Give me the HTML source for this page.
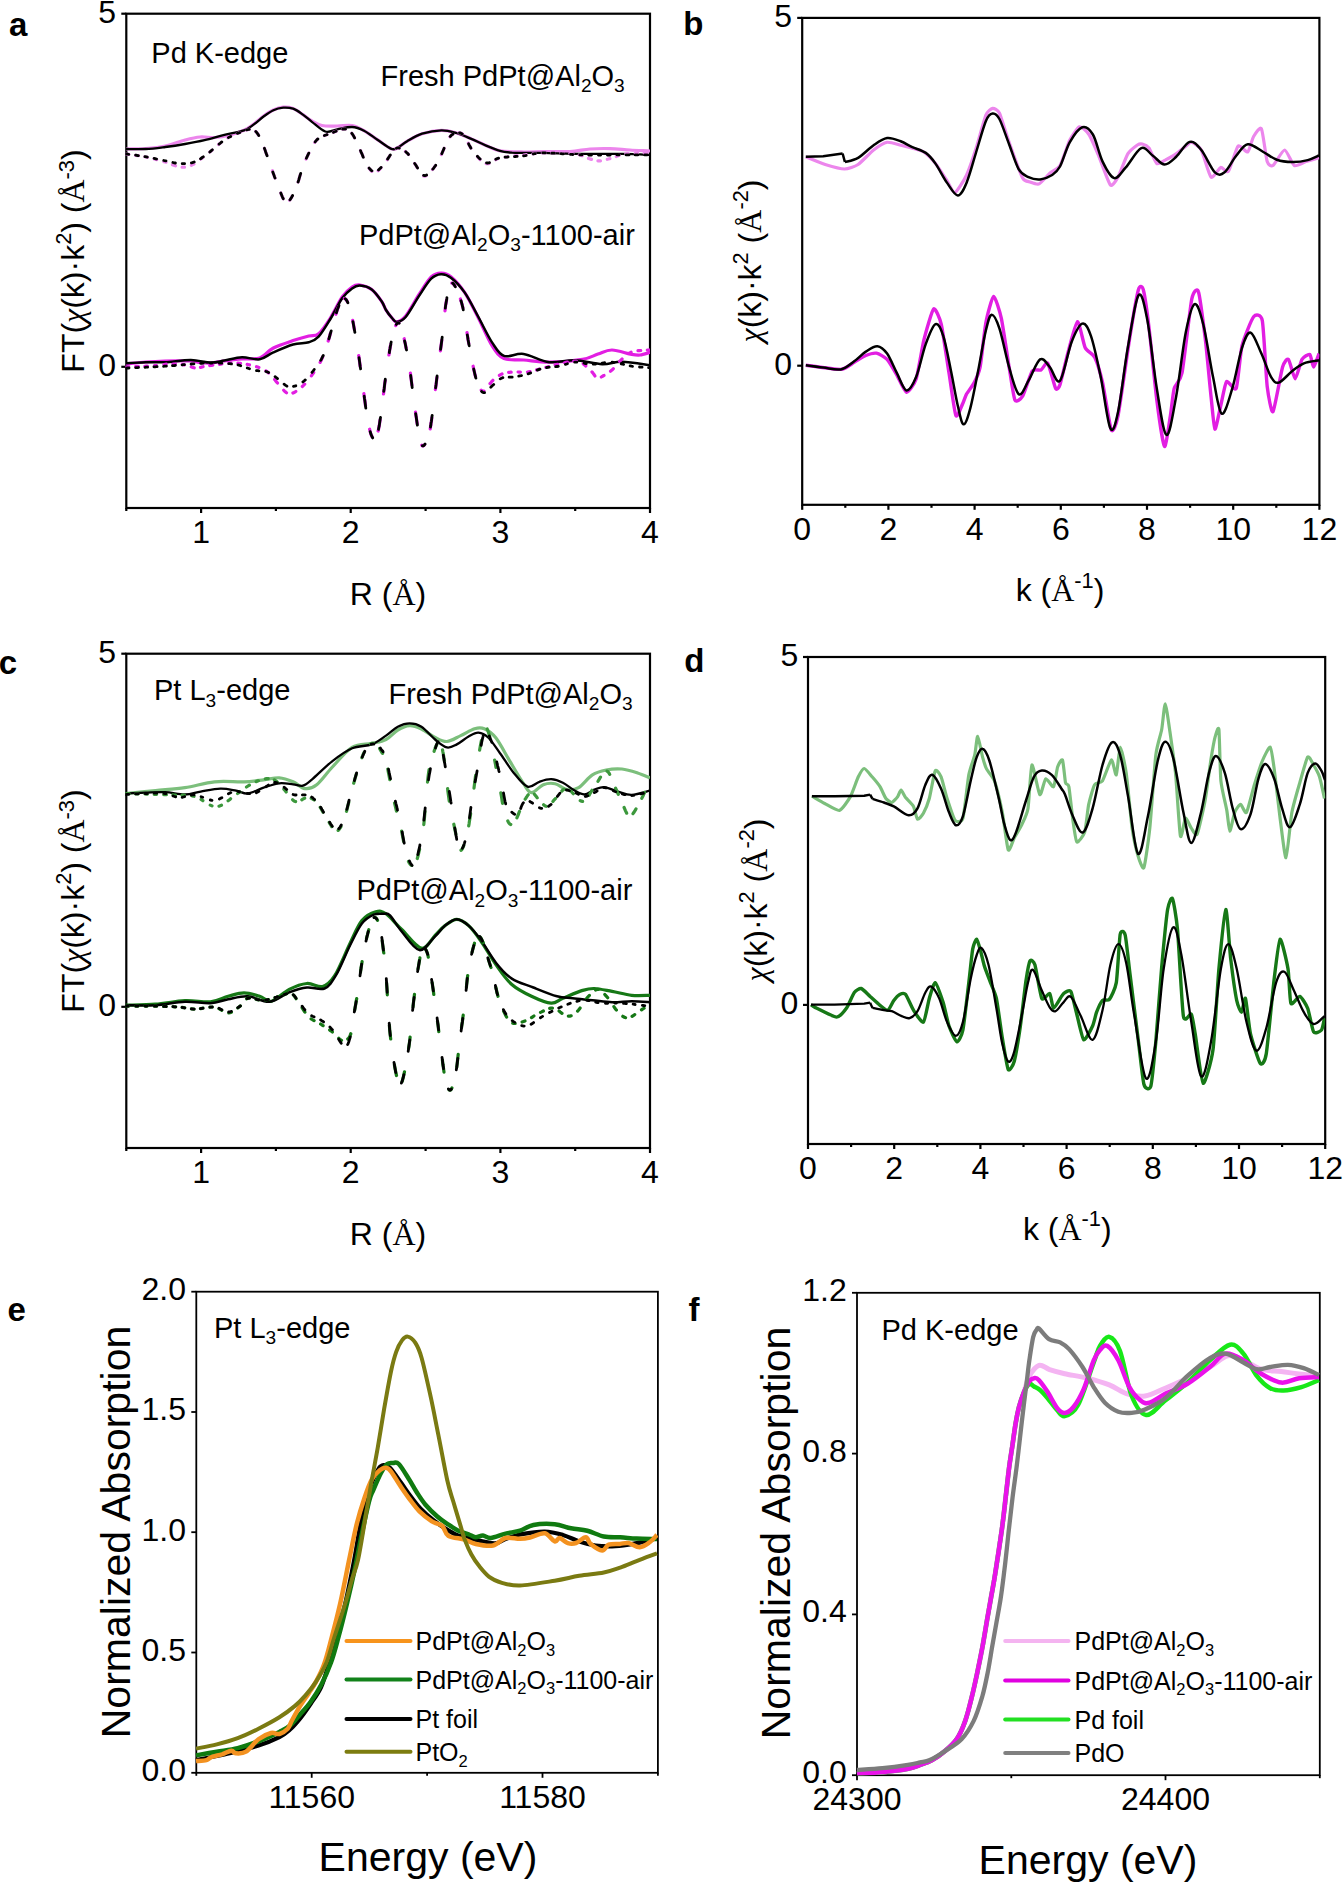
<!DOCTYPE html>
<html><head><meta charset="utf-8"><style>
html,body{margin:0;padding:0;background:#fff;width:1343px;height:1884px;overflow:hidden}
svg{display:block}
text{font-family:"Liberation Sans",sans-serif;fill:#000}
.serif{font-family:"Liberation Serif",serif}
.chi{font-family:"Liberation Serif",serif;font-style:italic}
</style></head><body>
<svg width="1343" height="1884" viewBox="0 0 1343 1884">
<rect width="1343" height="1884" fill="#fff"/>
<rect x="126.3" y="13.7" width="523.7" height="494.3" fill="none" stroke="#000" stroke-width="2.2"/>
<line x1="201.1" y1="508.0" x2="201.1" y2="513.0" stroke="#000" stroke-width="2.2" stroke-linecap="butt"/>
<line x1="350.7" y1="508.0" x2="350.7" y2="513.0" stroke="#000" stroke-width="2.2" stroke-linecap="butt"/>
<line x1="500.4" y1="508.0" x2="500.4" y2="513.0" stroke="#000" stroke-width="2.2" stroke-linecap="butt"/>
<line x1="650.0" y1="508.0" x2="650.0" y2="513.0" stroke="#000" stroke-width="2.2" stroke-linecap="butt"/>
<line x1="126.3" y1="508.0" x2="126.3" y2="511.0" stroke="#000" stroke-width="2.2" stroke-linecap="butt"/>
<line x1="275.9" y1="508.0" x2="275.9" y2="511.0" stroke="#000" stroke-width="2.2" stroke-linecap="butt"/>
<line x1="425.6" y1="508.0" x2="425.6" y2="511.0" stroke="#000" stroke-width="2.2" stroke-linecap="butt"/>
<line x1="575.2" y1="508.0" x2="575.2" y2="511.0" stroke="#000" stroke-width="2.2" stroke-linecap="butt"/>
<line x1="121.3" y1="13.7" x2="126.3" y2="13.7" stroke="#000" stroke-width="2.2" stroke-linecap="butt"/>
<line x1="121.3" y1="366.8" x2="126.3" y2="366.8" stroke="#000" stroke-width="2.2" stroke-linecap="butt"/>
<rect x="802.2" y="17.9" width="517.2" height="486.9" fill="none" stroke="#000" stroke-width="2.2"/>
<line x1="802.2" y1="504.8" x2="802.2" y2="509.8" stroke="#000" stroke-width="2.2" stroke-linecap="butt"/>
<line x1="888.4" y1="504.8" x2="888.4" y2="509.8" stroke="#000" stroke-width="2.2" stroke-linecap="butt"/>
<line x1="974.6" y1="504.8" x2="974.6" y2="509.8" stroke="#000" stroke-width="2.2" stroke-linecap="butt"/>
<line x1="1060.8" y1="504.8" x2="1060.8" y2="509.8" stroke="#000" stroke-width="2.2" stroke-linecap="butt"/>
<line x1="1147.0" y1="504.8" x2="1147.0" y2="509.8" stroke="#000" stroke-width="2.2" stroke-linecap="butt"/>
<line x1="1233.2" y1="504.8" x2="1233.2" y2="509.8" stroke="#000" stroke-width="2.2" stroke-linecap="butt"/>
<line x1="1319.4" y1="504.8" x2="1319.4" y2="509.8" stroke="#000" stroke-width="2.2" stroke-linecap="butt"/>
<line x1="845.3" y1="504.8" x2="845.3" y2="507.8" stroke="#000" stroke-width="2.2" stroke-linecap="butt"/>
<line x1="931.5" y1="504.8" x2="931.5" y2="507.8" stroke="#000" stroke-width="2.2" stroke-linecap="butt"/>
<line x1="1017.7" y1="504.8" x2="1017.7" y2="507.8" stroke="#000" stroke-width="2.2" stroke-linecap="butt"/>
<line x1="1103.9" y1="504.8" x2="1103.9" y2="507.8" stroke="#000" stroke-width="2.2" stroke-linecap="butt"/>
<line x1="1190.1" y1="504.8" x2="1190.1" y2="507.8" stroke="#000" stroke-width="2.2" stroke-linecap="butt"/>
<line x1="1276.3" y1="504.8" x2="1276.3" y2="507.8" stroke="#000" stroke-width="2.2" stroke-linecap="butt"/>
<line x1="797.2" y1="17.9" x2="802.2" y2="17.9" stroke="#000" stroke-width="2.2" stroke-linecap="butt"/>
<line x1="797.2" y1="365.7" x2="802.2" y2="365.7" stroke="#000" stroke-width="2.2" stroke-linecap="butt"/>
<rect x="126.3" y="653.7" width="523.7" height="494.3" fill="none" stroke="#000" stroke-width="2.2"/>
<line x1="201.1" y1="1148.0" x2="201.1" y2="1153.0" stroke="#000" stroke-width="2.2" stroke-linecap="butt"/>
<line x1="350.7" y1="1148.0" x2="350.7" y2="1153.0" stroke="#000" stroke-width="2.2" stroke-linecap="butt"/>
<line x1="500.4" y1="1148.0" x2="500.4" y2="1153.0" stroke="#000" stroke-width="2.2" stroke-linecap="butt"/>
<line x1="650.0" y1="1148.0" x2="650.0" y2="1153.0" stroke="#000" stroke-width="2.2" stroke-linecap="butt"/>
<line x1="126.3" y1="1148.0" x2="126.3" y2="1151.0" stroke="#000" stroke-width="2.2" stroke-linecap="butt"/>
<line x1="275.9" y1="1148.0" x2="275.9" y2="1151.0" stroke="#000" stroke-width="2.2" stroke-linecap="butt"/>
<line x1="425.6" y1="1148.0" x2="425.6" y2="1151.0" stroke="#000" stroke-width="2.2" stroke-linecap="butt"/>
<line x1="575.2" y1="1148.0" x2="575.2" y2="1151.0" stroke="#000" stroke-width="2.2" stroke-linecap="butt"/>
<line x1="121.3" y1="653.7" x2="126.3" y2="653.7" stroke="#000" stroke-width="2.2" stroke-linecap="butt"/>
<line x1="121.3" y1="1006.8" x2="126.3" y2="1006.8" stroke="#000" stroke-width="2.2" stroke-linecap="butt"/>
<rect x="808.0" y="657.0" width="517.2" height="487.0" fill="none" stroke="#000" stroke-width="2.2"/>
<line x1="808.0" y1="1144.0" x2="808.0" y2="1149.0" stroke="#000" stroke-width="2.2" stroke-linecap="butt"/>
<line x1="894.2" y1="1144.0" x2="894.2" y2="1149.0" stroke="#000" stroke-width="2.2" stroke-linecap="butt"/>
<line x1="980.4" y1="1144.0" x2="980.4" y2="1149.0" stroke="#000" stroke-width="2.2" stroke-linecap="butt"/>
<line x1="1066.6" y1="1144.0" x2="1066.6" y2="1149.0" stroke="#000" stroke-width="2.2" stroke-linecap="butt"/>
<line x1="1152.8" y1="1144.0" x2="1152.8" y2="1149.0" stroke="#000" stroke-width="2.2" stroke-linecap="butt"/>
<line x1="1239.0" y1="1144.0" x2="1239.0" y2="1149.0" stroke="#000" stroke-width="2.2" stroke-linecap="butt"/>
<line x1="1325.2" y1="1144.0" x2="1325.2" y2="1149.0" stroke="#000" stroke-width="2.2" stroke-linecap="butt"/>
<line x1="851.1" y1="1144.0" x2="851.1" y2="1147.0" stroke="#000" stroke-width="2.2" stroke-linecap="butt"/>
<line x1="937.3" y1="1144.0" x2="937.3" y2="1147.0" stroke="#000" stroke-width="2.2" stroke-linecap="butt"/>
<line x1="1023.5" y1="1144.0" x2="1023.5" y2="1147.0" stroke="#000" stroke-width="2.2" stroke-linecap="butt"/>
<line x1="1109.7" y1="1144.0" x2="1109.7" y2="1147.0" stroke="#000" stroke-width="2.2" stroke-linecap="butt"/>
<line x1="1195.9" y1="1144.0" x2="1195.9" y2="1147.0" stroke="#000" stroke-width="2.2" stroke-linecap="butt"/>
<line x1="1282.1" y1="1144.0" x2="1282.1" y2="1147.0" stroke="#000" stroke-width="2.2" stroke-linecap="butt"/>
<line x1="803.0" y1="657.0" x2="808.0" y2="657.0" stroke="#000" stroke-width="2.2" stroke-linecap="butt"/>
<line x1="803.0" y1="1004.9" x2="808.0" y2="1004.9" stroke="#000" stroke-width="2.2" stroke-linecap="butt"/>
<rect x="196.3" y="1291.7" width="461.6" height="481.1" fill="none" stroke="#000" stroke-width="1.8"/>
<line x1="311.7" y1="1772.8" x2="311.7" y2="1777.8" stroke="#000" stroke-width="1.8" stroke-linecap="butt"/>
<line x1="542.5" y1="1772.8" x2="542.5" y2="1777.8" stroke="#000" stroke-width="1.8" stroke-linecap="butt"/>
<line x1="196.3" y1="1772.8" x2="196.3" y2="1775.8" stroke="#000" stroke-width="1.8" stroke-linecap="butt"/>
<line x1="427.1" y1="1772.8" x2="427.1" y2="1775.8" stroke="#000" stroke-width="1.8" stroke-linecap="butt"/>
<line x1="657.9" y1="1772.8" x2="657.9" y2="1775.8" stroke="#000" stroke-width="1.8" stroke-linecap="butt"/>
<line x1="191.3" y1="1772.8" x2="196.3" y2="1772.8" stroke="#000" stroke-width="1.8" stroke-linecap="butt"/>
<line x1="191.3" y1="1652.5" x2="196.3" y2="1652.5" stroke="#000" stroke-width="1.8" stroke-linecap="butt"/>
<line x1="191.3" y1="1532.2" x2="196.3" y2="1532.2" stroke="#000" stroke-width="1.8" stroke-linecap="butt"/>
<line x1="191.3" y1="1412.0" x2="196.3" y2="1412.0" stroke="#000" stroke-width="1.8" stroke-linecap="butt"/>
<line x1="191.3" y1="1291.7" x2="196.3" y2="1291.7" stroke="#000" stroke-width="1.8" stroke-linecap="butt"/>
<rect x="857.0" y="1292.8" width="462.8" height="482.4" fill="none" stroke="#000" stroke-width="1.8"/>
<line x1="857.0" y1="1775.2" x2="857.0" y2="1780.2" stroke="#000" stroke-width="1.8" stroke-linecap="butt"/>
<line x1="1165.5" y1="1775.2" x2="1165.5" y2="1780.2" stroke="#000" stroke-width="1.8" stroke-linecap="butt"/>
<line x1="1011.3" y1="1775.2" x2="1011.3" y2="1778.2" stroke="#000" stroke-width="1.8" stroke-linecap="butt"/>
<line x1="1319.8" y1="1775.2" x2="1319.8" y2="1778.2" stroke="#000" stroke-width="1.8" stroke-linecap="butt"/>
<line x1="852.0" y1="1775.2" x2="857.0" y2="1775.2" stroke="#000" stroke-width="1.8" stroke-linecap="butt"/>
<line x1="852.0" y1="1614.4" x2="857.0" y2="1614.4" stroke="#000" stroke-width="1.8" stroke-linecap="butt"/>
<line x1="852.0" y1="1453.6" x2="857.0" y2="1453.6" stroke="#000" stroke-width="1.8" stroke-linecap="butt"/>
<line x1="852.0" y1="1292.8" x2="857.0" y2="1292.8" stroke="#000" stroke-width="1.8" stroke-linecap="butt"/>
<text x="201.1" y="543.0" font-size="32" text-anchor="middle" font-weight="normal" >1</text>
<text x="350.7" y="543.0" font-size="32" text-anchor="middle" font-weight="normal" >2</text>
<text x="500.4" y="543.0" font-size="32" text-anchor="middle" font-weight="normal" >3</text>
<text x="650.0" y="543.0" font-size="32" text-anchor="middle" font-weight="normal" >4</text>
<text x="201.1" y="1183.0" font-size="32" text-anchor="middle" font-weight="normal" >1</text>
<text x="350.7" y="1183.0" font-size="32" text-anchor="middle" font-weight="normal" >2</text>
<text x="500.4" y="1183.0" font-size="32" text-anchor="middle" font-weight="normal" >3</text>
<text x="650.0" y="1183.0" font-size="32" text-anchor="middle" font-weight="normal" >4</text>
<text x="802.2" y="539.6" font-size="32" text-anchor="middle" font-weight="normal" >0</text>
<text x="888.4" y="539.6" font-size="32" text-anchor="middle" font-weight="normal" >2</text>
<text x="974.6" y="539.6" font-size="32" text-anchor="middle" font-weight="normal" >4</text>
<text x="1060.8" y="539.6" font-size="32" text-anchor="middle" font-weight="normal" >6</text>
<text x="1147.0" y="539.6" font-size="32" text-anchor="middle" font-weight="normal" >8</text>
<text x="1233.2" y="539.6" font-size="32" text-anchor="middle" font-weight="normal" >10</text>
<text x="1319.4" y="539.6" font-size="32" text-anchor="middle" font-weight="normal" >12</text>
<text x="808.0" y="1178.5" font-size="32" text-anchor="middle" font-weight="normal" >0</text>
<text x="894.2" y="1178.5" font-size="32" text-anchor="middle" font-weight="normal" >2</text>
<text x="980.4" y="1178.5" font-size="32" text-anchor="middle" font-weight="normal" >4</text>
<text x="1066.6" y="1178.5" font-size="32" text-anchor="middle" font-weight="normal" >6</text>
<text x="1152.8" y="1178.5" font-size="32" text-anchor="middle" font-weight="normal" >8</text>
<text x="1239.0" y="1178.5" font-size="32" text-anchor="middle" font-weight="normal" >10</text>
<text x="1325.2" y="1178.5" font-size="32" text-anchor="middle" font-weight="normal" >12</text>
<text x="116.0" y="22.5" font-size="32" text-anchor="end" font-weight="normal" >5</text>
<text x="116.0" y="375.6" font-size="32" text-anchor="end" font-weight="normal" >0</text>
<text x="116.0" y="662.5" font-size="32" text-anchor="end" font-weight="normal" >5</text>
<text x="116.0" y="1015.6" font-size="32" text-anchor="end" font-weight="normal" >0</text>
<text x="792.0" y="26.7" font-size="32" text-anchor="end" font-weight="normal" >5</text>
<text x="792.0" y="374.5" font-size="32" text-anchor="end" font-weight="normal" >0</text>
<text x="798.2" y="665.8" font-size="32" text-anchor="end" font-weight="normal" >5</text>
<text x="798.2" y="1013.7" font-size="32" text-anchor="end" font-weight="normal" >0</text>
<text x="311.7" y="1807.5" font-size="32" text-anchor="middle" font-weight="normal" >11560</text>
<text x="542.5" y="1807.5" font-size="32" text-anchor="middle" font-weight="normal" >11580</text>
<text x="857.0" y="1810.0" font-size="32" text-anchor="middle" font-weight="normal" >24300</text>
<text x="1165.5" y="1810.0" font-size="32" text-anchor="middle" font-weight="normal" >24400</text>
<text x="186.0" y="1781.1" font-size="32" text-anchor="end" font-weight="normal" >0.0</text>
<text x="186.0" y="1660.8" font-size="32" text-anchor="end" font-weight="normal" >0.5</text>
<text x="186.0" y="1540.5" font-size="32" text-anchor="end" font-weight="normal" >1.0</text>
<text x="186.0" y="1420.3" font-size="32" text-anchor="end" font-weight="normal" >1.5</text>
<text x="186.0" y="1300.0" font-size="32" text-anchor="end" font-weight="normal" >2.0</text>
<text x="846.7" y="1783.2" font-size="32" text-anchor="end" font-weight="normal" >0.0</text>
<text x="846.7" y="1622.4" font-size="32" text-anchor="end" font-weight="normal" >0.4</text>
<text x="846.7" y="1461.6" font-size="32" text-anchor="end" font-weight="normal" >0.8</text>
<text x="846.7" y="1300.8" font-size="32" text-anchor="end" font-weight="normal" >1.2</text>
<text x="9.1" y="35.7" font-size="33" text-anchor="start" font-weight="bold" >a</text>
<text x="683.2" y="35.4" font-size="33" text-anchor="start" font-weight="bold" >b</text>
<text x="-1.3" y="673.7" font-size="33" text-anchor="start" font-weight="bold" >c</text>
<text x="684.2" y="671.9" font-size="33" text-anchor="start" font-weight="bold" >d</text>
<text x="7.6" y="1320.7" font-size="33" text-anchor="start" font-weight="bold" >e</text>
<text x="688.4" y="1320.7" font-size="33" text-anchor="start" font-weight="bold" >f</text>
<text transform="translate(84.0,261.0) rotate(-90)" font-size="32" text-anchor="middle"><tspan dy="0.0" font-size="32.0">FT(</tspan><tspan dy="0.0" font-size="32.0" class="chi">χ</tspan><tspan dy="0.0" font-size="32.0">(k)·k</tspan><tspan dy="-13.4" font-size="21.8">2</tspan><tspan dy="13.4" font-size="32.0">) (</tspan><tspan dy="0.0" font-size="32.0" class="serif">Å</tspan><tspan dy="-9.6" font-size="21.8">-3</tspan><tspan dy="9.6" font-size="32.0">)</tspan></text>
<text transform="translate(84.0,901.0) rotate(-90)" font-size="32" text-anchor="middle"><tspan dy="0.0" font-size="32.0">FT(</tspan><tspan dy="0.0" font-size="32.0" class="chi">χ</tspan><tspan dy="0.0" font-size="32.0">(k)·k</tspan><tspan dy="-13.4" font-size="21.8">2</tspan><tspan dy="13.4" font-size="32.0">) (</tspan><tspan dy="0.0" font-size="32.0" class="serif">Å</tspan><tspan dy="-9.6" font-size="21.8">-3</tspan><tspan dy="9.6" font-size="32.0">)</tspan></text>
<text transform="translate(761.0,261.0) rotate(-90)" font-size="32" text-anchor="middle"><tspan dy="0.0" font-size="32.0" class="chi">χ</tspan><tspan dy="0.0" font-size="32.0">(k)·k</tspan><tspan dy="-13.4" font-size="21.8">2</tspan><tspan dy="13.4" font-size="32.0"> (</tspan><tspan dy="0.0" font-size="32.0" class="serif">Å</tspan><tspan dy="-13.4" font-size="21.8">-2</tspan><tspan dy="13.4" font-size="32.0">)</tspan></text>
<text transform="translate(767.0,900.0) rotate(-90)" font-size="32" text-anchor="middle"><tspan dy="0.0" font-size="32.0" class="chi">χ</tspan><tspan dy="0.0" font-size="32.0">(k)·k</tspan><tspan dy="-13.4" font-size="21.8">2</tspan><tspan dy="13.4" font-size="32.0"> (</tspan><tspan dy="0.0" font-size="32.0" class="serif">Å</tspan><tspan dy="-13.4" font-size="21.8">-2</tspan><tspan dy="13.4" font-size="32.0">)</tspan></text>
<text transform="translate(130.0,1532.0) rotate(-90)" font-size="41" text-anchor="middle">Normalized Absorption</text>
<text transform="translate(790.0,1533.0) rotate(-90)" font-size="41" text-anchor="middle">Normalized Absorption</text>
<text x="388.0" y="604.7" font-size="32" text-anchor="middle" font-weight="normal" ><tspan dy="0.0" font-size="32.0">R (</tspan><tspan dy="0.0" font-size="32.0" class="serif">Å</tspan><tspan dy="0.0" font-size="32.0">)</tspan></text>
<text x="388.0" y="1244.7" font-size="32" text-anchor="middle" font-weight="normal" ><tspan dy="0.0" font-size="32.0">R (</tspan><tspan dy="0.0" font-size="32.0" class="serif">Å</tspan><tspan dy="0.0" font-size="32.0">)</tspan></text>
<text x="1060.0" y="601.0" font-size="32" text-anchor="middle" font-weight="normal" ><tspan dy="0.0" font-size="32.0">k (</tspan><tspan dy="0.0" font-size="32.0" class="serif">Å</tspan><tspan dy="-13.4" font-size="21.8">-1</tspan><tspan dy="13.4" font-size="32.0">)</tspan></text>
<text x="1067.3" y="1239.8" font-size="32" text-anchor="middle" font-weight="normal" ><tspan dy="0.0" font-size="32.0">k (</tspan><tspan dy="0.0" font-size="32.0" class="serif">Å</tspan><tspan dy="-13.4" font-size="21.8">-1</tspan><tspan dy="13.4" font-size="32.0">)</tspan></text>
<text x="428.0" y="1871.3" font-size="41" text-anchor="middle" font-weight="normal" >Energy (eV)</text>
<text x="1088.0" y="1873.6" font-size="41" text-anchor="middle" font-weight="normal" >Energy (eV)</text>
<text x="151.3" y="62.7" font-size="29" text-anchor="start" font-weight="normal" >Pd K-edge</text>
<text x="380.6" y="85.7" font-size="29" text-anchor="start" font-weight="normal" ><tspan dy="0.0" font-size="29.0">Fresh PdPt@Al</tspan><tspan dy="6.4" font-size="19.1">2</tspan><tspan dy="-6.4" font-size="29.0">O</tspan><tspan dy="6.4" font-size="19.1">3</tspan></text>
<text x="359.0" y="244.5" font-size="29" text-anchor="start" font-weight="normal" ><tspan dy="0.0" font-size="29.0">PdPt@Al</tspan><tspan dy="6.4" font-size="19.1">2</tspan><tspan dy="-6.4" font-size="29.0">O</tspan><tspan dy="6.4" font-size="19.1">3</tspan><tspan dy="-6.4" font-size="29.0">-1100-air</tspan></text>
<text x="154.0" y="700.4" font-size="29" text-anchor="start" font-weight="normal" ><tspan dy="0.0" font-size="29.0">Pt L</tspan><tspan dy="6.4" font-size="19.1">3</tspan><tspan dy="-6.4" font-size="29.0">-edge</tspan></text>
<text x="388.5" y="703.9" font-size="29" text-anchor="start" font-weight="normal" ><tspan dy="0.0" font-size="29.0">Fresh PdPt@Al</tspan><tspan dy="6.4" font-size="19.1">2</tspan><tspan dy="-6.4" font-size="29.0">O</tspan><tspan dy="6.4" font-size="19.1">3</tspan></text>
<text x="356.5" y="900.4" font-size="29" text-anchor="start" font-weight="normal" ><tspan dy="0.0" font-size="29.0">PdPt@Al</tspan><tspan dy="6.4" font-size="19.1">2</tspan><tspan dy="-6.4" font-size="29.0">O</tspan><tspan dy="6.4" font-size="19.1">3</tspan><tspan dy="-6.4" font-size="29.0">-1100-air</tspan></text>
<text x="214.0" y="1337.5" font-size="29" text-anchor="start" font-weight="normal" ><tspan dy="0.0" font-size="29.0">Pt L</tspan><tspan dy="6.4" font-size="19.1">3</tspan><tspan dy="-6.4" font-size="29.0">-edge</tspan></text>
<text x="881.5" y="1339.5" font-size="29" text-anchor="start" font-weight="normal" >Pd K-edge</text>
<line x1="346.5" y1="1640.9" x2="410.5" y2="1640.9" stroke="#f7941d" stroke-width="4" stroke-linecap="round"/>
<text x="415.5" y="1650.2" font-size="25" text-anchor="start" font-weight="normal" ><tspan dy="0.0" font-size="25.0">PdPt@Al</tspan><tspan dy="5.5" font-size="16.5">2</tspan><tspan dy="-5.5" font-size="25.0">O</tspan><tspan dy="5.5" font-size="16.5">3</tspan></text>
<line x1="346.5" y1="1679.6" x2="410.5" y2="1679.6" stroke="#12821a" stroke-width="4" stroke-linecap="round"/>
<text x="415.5" y="1688.9" font-size="25" text-anchor="start" font-weight="normal" ><tspan dy="0.0" font-size="25.0">PdPt@Al</tspan><tspan dy="5.5" font-size="16.5">2</tspan><tspan dy="-5.5" font-size="25.0">O</tspan><tspan dy="5.5" font-size="16.5">3</tspan><tspan dy="-5.5" font-size="25.0">-1100-air</tspan></text>
<line x1="346.5" y1="1718.9" x2="410.5" y2="1718.9" stroke="#000" stroke-width="4" stroke-linecap="round"/>
<text x="415.5" y="1728.2" font-size="25" text-anchor="start" font-weight="normal" ><tspan dy="0.0" font-size="25.0">Pt foil</tspan></text>
<line x1="346.5" y1="1751.8" x2="410.5" y2="1751.8" stroke="#7d7d10" stroke-width="4" stroke-linecap="round"/>
<text x="415.5" y="1761.1" font-size="25" text-anchor="start" font-weight="normal" ><tspan dy="0.0" font-size="25.0">PtO</tspan><tspan dy="5.5" font-size="16.5">2</tspan></text>
<line x1="1005.2" y1="1640.9" x2="1068.5" y2="1640.9" stroke="#f4b4f0" stroke-width="4" stroke-linecap="round"/>
<text x="1074.5" y="1650.2" font-size="25" text-anchor="start" font-weight="normal" ><tspan dy="0.0" font-size="25.0">PdPt@Al</tspan><tspan dy="5.5" font-size="16.5">2</tspan><tspan dy="-5.5" font-size="25.0">O</tspan><tspan dy="5.5" font-size="16.5">3</tspan></text>
<line x1="1005.2" y1="1680.4" x2="1068.5" y2="1680.4" stroke="#e000e0" stroke-width="4" stroke-linecap="round"/>
<text x="1074.5" y="1689.7" font-size="25" text-anchor="start" font-weight="normal" ><tspan dy="0.0" font-size="25.0">PdPt@Al</tspan><tspan dy="5.5" font-size="16.5">2</tspan><tspan dy="-5.5" font-size="25.0">O</tspan><tspan dy="5.5" font-size="16.5">3</tspan><tspan dy="-5.5" font-size="25.0">-1100-air</tspan></text>
<line x1="1005.2" y1="1719.6" x2="1068.5" y2="1719.6" stroke="#22e022" stroke-width="4" stroke-linecap="round"/>
<text x="1074.5" y="1728.9" font-size="25" text-anchor="start" font-weight="normal" ><tspan dy="0.0" font-size="25.0">Pd foil</tspan></text>
<line x1="1005.2" y1="1753.0" x2="1068.5" y2="1753.0" stroke="#808080" stroke-width="4" stroke-linecap="round"/>
<text x="1074.5" y="1762.3" font-size="25" text-anchor="start" font-weight="normal" ><tspan dy="0.0" font-size="25.0">PdO</tspan></text>
<clipPath id="ca"><rect x="125.3" y="13.7" width="524.7" height="494.3"/></clipPath>
<clipPath id="cb"><rect x="801.2" y="17.9" width="518.2" height="486.90000000000003"/></clipPath>
<clipPath id="cc"><rect x="125.3" y="653.7" width="524.7" height="494.29999999999995"/></clipPath>
<clipPath id="cd"><rect x="807" y="657" width="518.2" height="487"/></clipPath>
<clipPath id="ce"><rect x="195.3" y="1291.7" width="462.59999999999997" height="481.0999999999999"/></clipPath>
<clipPath id="cf"><rect x="856" y="1292.8" width="463.79999999999995" height="482.4000000000001"/></clipPath>
<path d="M126.0,149.0 C129.3,148.9 139.1,149.0 145.7,148.5 C152.2,148.0 158.8,147.4 165.3,146.0 C171.9,144.6 179.2,141.5 185.0,140.0 C190.8,138.5 195.0,137.4 200.0,137.0 C205.0,136.6 210.0,137.8 215.0,137.5 C220.0,137.2 225.2,136.2 230.0,135.0 C234.8,133.8 240.0,132.1 244.0,130.3 C248.0,128.5 250.5,126.4 253.8,124.0 C257.1,121.6 260.3,118.3 263.6,116.0 C266.9,113.7 270.1,111.5 273.4,110.0 C276.7,108.5 280.0,107.5 283.3,107.2 C286.6,107.0 289.8,107.3 293.1,108.5 C296.4,109.7 299.8,112.5 302.9,114.6 C306.0,116.7 308.7,119.2 311.9,121.0 C315.1,122.8 317.8,124.7 322.0,125.5 C326.2,126.3 332.2,126.0 337.2,126.0 C342.2,126.0 347.6,124.7 352.1,125.5 C356.6,126.3 359.8,128.3 364.0,130.7 C368.2,133.1 372.9,136.7 377.4,139.7 C381.9,142.7 387.6,147.2 390.8,148.6 C394.0,150.0 394.1,149.5 396.8,148.3 C399.5,147.1 403.0,143.6 407.2,141.2 C411.4,138.8 416.4,135.5 422.1,133.7 C427.8,131.9 435.8,130.4 441.5,130.3 C447.2,130.2 451.4,131.6 456.4,133.0 C461.4,134.4 466.4,136.8 471.3,138.9 C476.2,141.0 481.3,143.6 486.1,145.6 C490.9,147.6 493.8,149.7 500.0,150.8 C506.2,151.9 516.4,151.9 523.6,152.0 C530.8,152.1 535.6,151.6 543.3,151.5 C551.0,151.4 562.2,151.9 570.0,151.5 C577.8,151.1 583.3,149.5 590.0,149.0 C596.7,148.5 603.3,148.4 610.0,148.6 C616.7,148.8 623.3,149.6 630.0,150.0 C636.7,150.4 646.7,150.8 650.0,151.0" fill="none" stroke="#ec86ec" stroke-width="3.2" stroke-linejoin="round" clip-path="url(#ca)"/>
<path d="M126.0,149.0 C129.3,149.0 139.1,149.3 145.7,149.0 C152.2,148.7 158.8,147.8 165.3,147.0 C171.9,146.2 178.4,145.2 185.0,144.0 C191.6,142.8 198.0,141.6 204.6,140.1 C211.2,138.6 217.7,136.4 224.3,134.8 C230.9,133.2 239.1,132.0 244.0,130.3 C248.9,128.6 250.5,126.7 253.8,124.4 C257.1,122.1 260.3,118.9 263.6,116.5 C266.9,114.1 270.1,111.7 273.4,110.2 C276.7,108.7 280.0,108.0 283.3,107.7 C286.6,107.5 289.8,107.6 293.1,108.7 C296.4,109.8 299.8,112.4 302.9,114.6 C306.0,116.8 308.2,119.0 311.9,121.8 C315.6,124.6 321.1,130.2 325.3,131.5 C329.5,132.8 332.7,130.1 337.2,129.3 C341.7,128.6 347.6,126.8 352.1,127.0 C356.6,127.2 359.8,128.6 364.0,130.7 C368.2,132.8 372.9,136.7 377.4,139.7 C381.9,142.7 387.6,147.2 390.8,148.6 C394.0,150.0 394.1,149.5 396.8,148.3 C399.5,147.1 403.0,143.6 407.2,141.2 C411.4,138.8 416.4,135.5 422.1,133.7 C427.8,131.9 435.8,130.4 441.5,130.3 C447.2,130.2 451.4,131.6 456.4,133.0 C461.4,134.4 466.4,136.8 471.3,138.9 C476.2,141.0 481.3,143.6 486.1,145.6 C490.9,147.6 495.7,149.6 500.0,150.8 C504.3,152.0 508.1,152.3 512.0,152.7 C515.9,153.0 518.4,152.9 523.6,152.9 C528.8,152.9 533.5,152.7 543.3,152.9 C553.1,153.1 569.5,153.7 582.6,153.9 C595.7,154.1 610.7,153.7 621.9,153.9 C633.1,154.1 645.3,154.7 650.0,154.9" fill="none" stroke="#000" stroke-width="2.3" stroke-linejoin="round" clip-path="url(#ca)"/>
<path d="M126.0,154.0 127.0,154.1 128.1,154.3 128.8,154.4M135.6,155.3 137.5,155.6 138.4,155.7M144.9,156.8 146.5,157.2 147.4,157.3M154.1,158.9 155.8,159.4 156.7,159.6M163.8,161.6 165.3,162.0 166.0,162.2M172.5,164.7 173.7,165.2 174.9,165.6 175.5,165.9M182.1,167.2 183.1,167.2 184.0,167.2 184.5,167.2M191.4,165.3 192.6,164.7 193.9,164.0M200.8,159.1 202.2,158.0 203.0,157.4M209.9,151.9 211.3,150.8 212.0,150.3M218.6,144.5 219.9,143.5 221.2,142.4M227.9,137.9 229.0,137.2 230.1,136.6 230.7,136.4M237.4,133.4 238.6,133.0 239.8,132.5M246.5,129.9 247.6,129.6 248.8,129.4 249.3,129.3M255.8,131.5 256.4,132.1 257.0,132.9 257.6,133.7 258.2,134.6 258.5,135.1M264.4,148.3 265.1,150.1 265.7,152.0 266.4,153.9 266.8,154.8M272.4,170.7 273.2,173.2 274.1,175.6 275.0,178.0M280.8,193.0 281.5,194.8 282.2,196.5 282.9,198.0 283.3,198.7M289.6,200.3 290.3,199.3 291.1,198.1 291.8,196.8 292.2,196.2M298.1,182.0 298.8,179.9 299.4,177.7 300.0,175.6 300.4,174.5M306.0,159.0 306.7,157.6 307.3,156.3 307.9,155.0 308.5,153.7 308.8,153.1M314.8,142.4 315.4,141.6 316.1,140.7 316.8,140.0 317.5,139.2M324.4,135.5 325.4,135.2 326.5,134.8 327.0,134.6M333.5,132.3 334.8,131.7 336.2,131.2M342.6,129.2 343.7,129.1 344.7,129.0 345.6,129.0M351.8,133.3 352.4,134.1 353.0,135.1 353.7,136.1 354.3,137.3 354.6,137.9M360.5,150.6 361.1,152.1 361.8,153.5 362.4,155.0 363.0,156.5M369.1,168.3 369.7,169.1 370.4,169.9 371.0,170.6 371.6,171.2 371.9,171.4M378.1,170.7 378.9,170.0 379.6,169.3 380.4,168.4 381.1,167.6M387.3,159.7 388.0,158.5 388.8,157.3 389.5,156.1 389.9,155.6M396.2,148.3 396.7,148.1 397.2,148.0 397.7,147.9 398.3,147.9 398.9,148.0 399.3,148.1M405.4,151.5 406.1,152.1 406.9,152.8 407.5,153.4 408.2,154.1 408.5,154.5M414.7,163.5 415.4,164.5 416.1,165.7 416.8,166.9 417.2,167.6M423.6,176.0 424.3,176.1 425.1,176.1 425.9,175.8 426.2,175.7M432.5,169.5 433.2,168.7 433.8,167.9 434.4,167.1 435.1,166.2 435.4,165.7M441.4,154.5 442.2,152.9 442.9,151.1 443.7,149.3 444.1,148.3M449.9,136.8 450.6,136.1 451.2,135.4 451.8,134.9 452.4,134.4 452.7,134.3M459.2,132.8 459.8,132.9 460.4,133.0 461.0,133.2 461.6,133.5 462.3,133.9M468.3,143.2 468.9,144.4 469.5,145.7 470.2,146.9 470.9,148.1M477.4,156.6 478.3,157.6 479.2,158.6 480.1,159.5M486.2,163.6 486.8,163.7 487.4,163.7 488.0,163.6 488.7,163.6 489.1,163.5M495.8,159.7 496.8,159.1 498.0,158.6M505.1,157.1 507.1,156.8 507.6,156.7M514.5,155.9 515.6,155.8 516.6,155.7 517.1,155.7M523.6,155.0 525.3,154.8 526.2,154.7M532.9,153.8 534.4,153.6 535.2,153.5M542.3,153.0 543.3,153.0 544.4,153.0 545.0,153.0M551.5,152.9 552.9,153.0 554.3,153.0M560.9,153.1 562.4,153.1 563.1,153.2M569.9,153.5 571.1,153.6 572.3,153.7 572.9,153.8M579.3,154.8 580.7,155.3 582.1,155.7M588.5,158.5 589.5,158.8 590.5,159.1 591.5,159.4M597.9,160.8 598.7,160.8 599.5,160.8 600.5,160.8M607.3,159.3 608.4,159.0 609.4,158.7 609.9,158.6M616.3,156.5 617.2,156.1 618.2,155.7 619.2,155.3M625.8,153.9 627.7,153.7 628.2,153.7M635.2,153.3 636.5,153.3 637.7,153.3M644.2,153.1 645.2,153.1 647.1,153.1" fill="none" stroke="#ec86ec" stroke-width="3.2" stroke-linecap="round" clip-path="url(#ca)"/>
<path d="M126.0,153.9 127.0,154.0 128.1,154.2 128.8,154.3M135.6,155.2 137.5,155.5 138.4,155.6M144.9,156.7 146.5,156.9 147.3,157.1M154.1,158.4 155.8,158.8 156.6,159.0M163.8,160.5 165.3,160.8 166.0,160.9M172.9,162.5 174.2,162.8 175.4,163.0M182.2,163.7 183.4,163.7 184.6,163.7M191.4,162.9 192.5,162.6 193.7,162.2 194.2,162.0M200.5,158.8 201.6,158.0 202.7,157.2 203.3,156.8M209.8,152.0 211.1,150.9 212.4,149.8M219.1,144.1 220.5,143.0 221.8,141.9M228.4,137.6 229.6,136.9 230.7,136.4M237.4,133.4 238.6,133.0 239.8,132.5M246.5,129.9 247.6,129.6 248.8,129.4 249.3,129.3M255.8,131.5 256.4,132.1 257.0,132.9 257.6,133.7 258.2,134.6 258.8,135.6M264.4,148.3 265.1,150.1 265.7,152.0 266.4,153.9 267.1,155.8M272.8,172.0 273.7,174.4 274.5,176.8 275.0,178.0M280.8,193.0 281.5,194.8 282.2,196.5 282.9,198.0 283.3,198.7M290.0,199.8 290.7,198.7 291.5,197.5 292.2,196.2 292.6,195.5M298.1,182.0 298.8,179.9 299.4,177.7 300.0,175.6 300.7,173.4M306.4,158.3 307.0,156.9 307.6,155.6 308.2,154.3 308.8,153.1M315.1,142.0 315.7,141.2 316.4,140.4 317.1,139.6 317.9,138.9M324.4,135.5 325.4,135.2 326.5,134.8 327.0,134.6M333.5,132.3 334.8,131.7 336.2,131.2M342.6,129.2 343.7,129.1 344.7,129.0 345.6,129.0M351.8,133.3 352.4,134.1 353.0,135.1 353.7,136.1 354.3,137.3 354.6,137.9M360.5,150.6 361.1,152.1 361.8,153.6 362.4,155.1 363.0,156.6 363.3,157.3M369.1,168.1 369.7,168.8 370.4,169.5 371.0,170.1 371.6,170.6 371.9,170.8M378.5,169.9 379.2,169.2 380.0,168.5 380.8,167.8 381.1,167.4M387.6,159.1 388.4,157.9 389.2,156.7 389.9,155.6 390.3,155.0M396.4,148.2 396.9,148.0 397.4,147.9 398.0,147.9 398.6,147.9 399.3,148.1M405.8,151.8 406.5,152.5 407.2,153.1 407.9,153.8 408.5,154.5M414.7,163.5 415.4,164.5 416.1,165.6 416.8,166.8 417.6,168.0M423.6,175.4 424.3,175.6 425.1,175.5 425.9,175.3 426.6,175.0M432.8,169.1 433.5,168.3 434.1,167.5 434.7,166.7 435.4,165.8 435.7,165.3M441.8,153.7 442.5,152.0 443.3,150.2 444.1,148.3M450.2,136.4 450.9,135.7 451.5,135.1 452.1,134.7 452.7,134.3 453.0,134.1M459.5,132.8 460.1,132.9 460.7,133.1 461.3,133.4 461.9,133.7 462.3,133.9M468.6,143.8 469.2,145.1 469.9,146.3 470.6,147.5 470.9,148.1M477.4,156.3 478.3,157.3 479.2,158.2 480.1,159.1M486.5,162.9 487.1,163.0 487.7,163.0 488.4,162.9 489.1,162.8 489.5,162.7M495.8,159.3 496.8,158.8 498.0,158.3 498.6,158.1M505.1,157.1 507.1,157.0 508.1,156.9M514.5,156.6 515.6,156.5 516.6,156.4 517.1,156.4M523.6,155.9 525.3,155.7 526.1,155.5M533.2,154.0 534.6,153.7 535.4,153.6M542.7,152.9 543.9,152.9 545.2,152.9M551.7,153.1 552.8,153.2 553.9,153.2 554.4,153.2M561.1,153.7 562.3,153.8 563.5,153.8M570.5,154.3 571.7,154.4 572.9,154.5M579.8,154.8 580.9,154.9 582.0,154.9M588.7,155.0 589.8,155.0 591.0,155.0 591.5,155.0M598.4,155.0 599.5,155.0 600.7,155.0M607.4,155.0 608.5,155.0 609.6,155.0 610.2,155.0M617.0,154.9 618.3,154.9 619.0,154.9M626.1,154.9 627.6,154.9 629.0,154.9M635.2,154.9 636.5,154.9 637.8,154.9M644.7,154.9 646.2,154.9 647.1,154.9" fill="none" stroke="#000" stroke-width="2.8" stroke-linecap="round" clip-path="url(#ca)"/>
<path d="M126.0,364.0 C129.3,363.7 139.1,362.5 145.7,362.0 C152.2,361.5 157.8,361.2 165.3,361.0 C172.8,360.8 185.1,360.8 190.9,361.0 C196.7,361.2 196.7,362.2 200.0,362.5 C203.3,362.8 206.4,363.2 210.5,363.0 C214.6,362.8 219.1,361.7 224.3,361.0 C229.6,360.3 236.1,359.5 242.0,359.0 C247.9,358.5 254.5,359.8 259.7,358.0 C264.9,356.2 267.8,350.9 273.4,348.0 C279.0,345.1 287.2,342.6 293.1,340.6 C299.0,338.6 304.6,337.1 308.8,336.0 C313.1,334.9 315.0,336.7 318.6,333.7 C322.2,330.7 326.5,324.1 330.4,318.0 C334.3,311.9 338.6,302.2 342.2,297.0 C345.8,291.8 349.2,289.0 352.1,287.0 C355.1,285.0 356.6,284.6 359.9,285.0 C363.2,285.4 368.1,286.8 371.7,289.5 C375.3,292.2 379.2,297.9 381.6,301.3 C384.0,304.7 384.3,307.2 386.0,310.0 C387.7,312.8 390.2,316.0 392.0,318.0 C393.8,320.0 394.5,322.2 396.8,321.9 C399.1,321.6 401.9,320.6 405.7,316.0 C409.5,311.4 415.1,300.5 419.4,294.0 C423.6,287.5 427.6,280.5 431.2,277.0 C434.8,273.5 437.7,273.1 441.0,273.0 C444.3,272.9 447.0,273.5 450.9,276.7 C454.8,279.9 460.0,285.5 464.6,292.4 C469.2,299.3 473.8,309.1 478.4,318.0 C483.0,326.9 487.9,339.2 492.2,346.0 C496.5,352.8 498.8,356.2 504.0,358.5 C509.2,360.8 516.1,359.4 523.6,360.0 C531.1,360.6 539.4,362.3 549.2,362.2 C559.0,362.1 574.5,360.7 582.6,359.3 C590.7,357.9 593.1,355.6 598.0,354.0 C602.9,352.4 606.4,349.9 612.0,350.0 C617.6,350.1 627.0,353.6 631.7,354.4 C636.4,355.2 637.0,355.3 640.0,355.0 C643.0,354.7 648.3,352.8 650.0,352.4" fill="none" stroke="#e21ee2" stroke-width="3.2" stroke-linejoin="round" clip-path="url(#ca)"/>
<path d="M126.0,363.2 C129.3,363.0 139.1,362.4 145.7,362.2 C152.2,362.0 157.8,362.6 165.3,362.2 C172.8,361.8 183.4,359.8 190.9,359.9 C198.4,360.0 204.9,362.5 210.5,362.6 C216.1,362.7 219.1,361.5 224.3,360.6 C229.6,359.7 236.1,357.5 242.0,357.3 C247.9,357.1 254.5,360.1 259.7,359.3 C264.9,358.5 267.8,354.9 273.4,352.4 C279.0,349.9 287.2,346.2 293.1,344.5 C299.0,342.8 304.6,343.5 308.8,342.2 C313.1,340.9 315.0,340.6 318.6,336.7 C322.2,332.8 326.5,325.4 330.4,319.0 C334.3,312.6 338.6,303.4 342.2,298.3 C345.8,293.2 349.2,290.6 352.1,288.5 C355.1,286.4 356.6,285.4 359.9,285.6 C363.2,285.8 368.1,286.9 371.7,289.5 C375.3,292.1 379.2,297.9 381.6,301.3 C384.0,304.7 384.3,307.2 386.0,310.0 C387.7,312.8 390.2,316.0 392.0,318.0 C393.8,320.0 394.5,322.1 396.8,321.9 C399.1,321.7 401.9,321.4 405.7,317.0 C409.5,312.6 415.1,301.8 419.4,295.4 C423.6,289.0 427.6,282.2 431.2,278.7 C434.8,275.2 437.7,274.4 441.0,274.2 C444.3,274.0 447.0,274.7 450.9,277.7 C454.8,280.7 460.0,285.8 464.6,292.4 C469.2,298.9 473.8,308.6 478.4,317.0 C483.0,325.4 487.9,336.1 492.2,342.6 C496.5,349.1 498.8,354.0 504.0,355.9 C509.2,357.8 516.1,352.9 523.6,354.0 C531.1,355.1 540.7,361.1 549.2,362.2 C557.7,363.2 565.9,360.0 574.7,360.3 C583.5,360.6 594.3,363.9 602.2,364.2 C610.1,364.4 613.9,361.6 621.9,361.8 C629.9,362.0 645.3,364.6 650.0,365.2" fill="none" stroke="#000" stroke-width="2.5" stroke-linejoin="round" clip-path="url(#ca)"/>
<path d="M126.0,367.0 127.2,367.0 128.7,366.9M135.6,366.7 136.8,366.6 137.9,366.6 138.5,366.6M144.8,366.3 146.0,366.2 147.0,366.2 147.5,366.2M154.5,365.6 156.3,365.4M163.9,364.5 165.4,364.3 166.2,364.2M172.8,364.0 174.2,364.0 175.5,364.0M182.2,364.6 183.4,364.8 184.5,364.9M191.2,366.8 192.1,367.2 192.9,367.4 193.8,367.7 194.2,367.8M200.5,367.4 201.3,367.2 202.1,366.9 203.1,366.7M209.7,365.6 210.7,365.5 211.7,365.3 212.8,365.2M219.4,364.3 220.6,364.1 221.9,364.0M228.7,363.3 229.8,363.2 231.0,363.1M237.9,363.1 239.7,363.3 240.6,363.3M247.2,364.4 248.7,364.7 249.5,364.9M256.5,366.7 257.7,367.1 258.9,367.5M265.9,370.9 267.0,371.6 268.0,372.4 268.6,372.9M274.6,379.5 275.6,380.7 276.5,381.9 277.5,383.0M283.7,390.2 284.5,391.1 285.3,391.8 286.1,392.5 286.5,392.8M292.9,393.0 294.1,392.5 295.2,391.9 295.8,391.5M302.3,386.5 303.5,385.4 304.7,384.2M311.4,375.9 312.5,374.2 313.7,372.6M320.1,362.4 320.7,361.3 321.3,360.1 321.8,358.9 322.4,357.6 322.7,356.9M328.2,341.0 328.9,338.7 329.6,336.4 330.2,334.1 330.6,333.0M335.9,314.3 336.4,312.7 336.9,311.2 337.3,309.8 337.8,308.4 338.3,307.2 338.5,306.6M344.4,298.4 344.9,298.6 345.4,298.9 345.9,299.4 346.4,300.1 346.9,300.9 347.4,301.8M352.7,320.3 353.2,322.9 353.7,325.6 354.2,328.4 354.4,329.7M358.7,355.5 359.0,357.6 359.3,359.8 359.6,361.9 359.9,364.2 360.2,366.5M363.9,393.7 364.2,396.1 364.5,398.5 364.9,401.0 365.2,403.4 365.5,405.8M369.6,429.2 370.0,430.8 370.4,432.3 370.8,433.7 371.2,434.9 371.7,436.0 372.1,436.9M378.1,431.0 378.5,429.4 378.8,427.7 379.2,425.9 379.5,423.9 379.8,421.8 380.1,419.7M383.5,394.0 383.8,391.3 384.2,388.5 384.5,385.8 384.8,383.1 385.2,380.5M388.9,355.0 389.3,352.7 389.6,350.6 390.0,348.5 390.3,346.5 390.7,344.7M395.7,325.6 396.1,324.8 396.5,324.1 397.0,323.5 397.4,323.1 397.8,322.8 398.2,322.7 398.6,322.8 398.8,322.9M404.2,338.7 404.6,340.9 405.2,343.4 405.7,345.9 406.2,348.6M410.4,373.1 410.7,375.5 411.0,377.9 411.3,380.3 411.6,382.7 411.9,385.1M415.5,412.2 415.9,415.2 416.4,418.2 416.8,421.1 417.2,423.9M421.8,445.2 422.2,445.7 422.6,445.9 423.1,445.9 423.5,445.7 424.0,445.3 424.6,444.8M430.2,428.9 430.5,427.1 430.8,425.3 431.0,423.3 431.4,421.2 431.7,418.9 431.8,417.8M435.4,389.6 435.9,386.1 436.3,382.6 436.7,379.3 436.9,377.6M440.4,350.8 440.8,347.8 441.2,344.7 441.6,341.6 441.8,340.1M445.0,310.9 445.3,308.2 445.6,305.6 446.0,303.2 446.4,300.9 446.6,299.8M451.8,283.0 452.3,283.1 452.8,283.4 453.3,283.9 453.9,284.5 454.4,285.2 454.9,286.0M460.4,299.0 460.8,300.2 461.2,301.4 461.5,302.6 461.9,303.8 462.2,304.8 462.4,305.9 462.7,306.9 462.9,307.8M467.0,332.5 467.3,334.8 467.7,337.1 468.0,339.3 468.4,341.5 468.8,343.7M473.1,366.2 473.5,368.1 473.9,369.9 474.3,371.6 474.7,373.4 475.1,375.0 475.5,376.7M481.2,390.1 481.6,390.5 482.1,390.9 482.7,391.1 483.2,391.2 483.7,391.1 484.0,391.1M490.0,383.6 490.8,382.7 491.5,381.8 492.2,381.0 492.9,380.3M499.4,375.3 500.2,374.8 501.1,374.4 502.0,374.0M508.6,372.4 509.7,372.3 510.7,372.2 511.2,372.2M518.1,372.0 519.3,372.1 520.4,372.1M527.5,372.0 528.7,371.8 530.0,371.6M536.6,369.9 538.0,369.5 539.3,369.1M545.9,367.3 547.2,367.0 548.5,366.6M555.1,364.9 556.4,364.6 557.7,364.3M564.5,362.7 566.0,362.4 567.4,362.1M573.7,361.1 574.7,361.0 575.6,361.0 576.4,361.0M583.2,363.8 584.0,364.5 584.9,365.2 585.8,366.0M592.0,372.0 592.6,372.6 593.1,373.3 593.6,373.9 594.0,374.5 594.4,375.1 594.8,375.7 594.9,376.0M601.3,377.0 601.8,376.7 602.4,376.3 603.0,376.0 603.6,375.6 604.0,375.5M610.5,371.2 611.3,370.6 612.0,370.0 612.7,369.4 613.3,368.7M619.6,361.4 620.4,360.6 621.2,359.8 622.1,359.0M628.8,353.4 629.9,352.8 631.1,352.2M638.0,350.7 639.8,350.6 640.7,350.5M647.3,350.2 648.5,350.1 649.6,350.0 650.0,350.0" fill="none" stroke="#e21ee2" stroke-width="3.2" stroke-linecap="round" clip-path="url(#ca)"/>
<path d="M126.0,368.1 127.4,368.0 128.5,368.0 129.0,368.0M135.7,367.7 136.7,367.6 137.9,367.6 138.4,367.5M145.1,367.3 146.3,367.2 147.6,367.1M153.9,366.8 155.2,366.8 156.4,366.7 157.1,366.7M163.6,366.3 164.7,366.2 165.8,366.2 166.4,366.1M172.5,365.7 173.7,365.6 174.8,365.5 175.4,365.4M182.2,364.8 183.3,364.7 184.4,364.6M191.1,364.0 192.2,363.9 193.3,363.9 193.9,363.8M200.7,363.4 201.7,363.3 203.2,363.2M210.2,363.1 211.6,363.1 212.2,363.1M219.3,363.1 220.6,363.1 221.8,363.2M228.8,363.6 229.9,363.7 230.9,363.8 231.5,363.9M238.0,364.9 239.9,365.4 240.7,365.7M247.3,368.0 248.8,368.5 249.5,368.8M256.5,370.6 257.7,370.7 258.9,370.8M265.9,371.5 267.0,371.8 268.0,372.2 268.6,372.5M275.1,376.7 276.1,377.5 277.0,378.2 277.5,378.6M284.1,384.2 284.9,384.8 285.7,385.4 286.5,385.9 286.9,386.2M293.5,386.4 294.6,386.1 295.8,385.8M302.9,381.9 304.1,381.0 305.3,379.9M312.0,372.4 313.1,371.0 314.2,369.5M320.7,360.4 321.3,359.4 321.8,358.4 322.4,357.2 323.0,356.0 323.3,355.4M328.9,338.8 329.6,336.5 330.2,334.2 330.9,331.9 331.2,330.9M336.4,312.7 336.9,311.2 337.3,309.8 337.8,308.4 338.3,307.2 338.8,306.0 339.0,305.4M345.2,298.7 345.7,299.2 346.2,299.7 346.7,300.5 347.2,301.3 347.6,302.3 347.9,302.8M352.9,321.6 353.4,324.3 353.9,327.0 354.4,329.7 354.9,332.4M359.0,357.6 359.3,359.8 359.6,361.9 359.9,364.2 360.2,366.5 360.6,368.9M364.2,396.1 364.5,398.5 364.9,401.0 365.2,403.4 365.5,405.8 365.8,408.2M370.2,431.6 370.6,433.0 371.0,434.3 371.5,435.5 371.9,436.5 372.3,437.3 372.7,437.9M378.5,429.4 378.8,427.7 379.2,425.9 379.5,423.9 379.8,421.8 380.1,419.7 380.5,417.4M383.8,391.3 384.2,388.5 384.5,385.8 384.8,383.1 385.2,380.5 385.3,379.2M389.3,352.7 389.6,350.6 390.0,348.5 390.3,346.5 390.7,344.7 391.0,342.8 391.2,342.0M396.3,324.4 396.8,323.8 397.2,323.3 397.6,322.9 398.0,322.7 398.4,322.7 398.8,322.9 399.2,323.3M404.6,340.9 405.2,343.4 405.7,345.9 406.2,348.6 406.5,350.0M410.7,375.5 411.0,377.9 411.3,380.3 411.6,382.7 411.9,385.1 412.2,387.5M415.7,413.7 416.2,416.7 416.6,419.7 417.0,422.5 417.4,425.2M422.4,445.8 422.8,445.9 423.3,445.8 423.8,445.5 424.3,445.1 424.8,444.4 425.1,444.0M430.5,427.1 430.8,425.3 431.0,423.3 431.4,421.2 431.7,418.9 432.0,416.5 432.2,415.3M435.6,387.9 436.1,384.4 436.5,380.9 436.9,377.6 437.1,376.0M440.6,349.3 441.0,346.2 441.4,343.2 441.8,340.1 442.2,337.1M445.3,308.2 445.6,305.6 446.0,303.2 446.4,300.9 446.8,298.7 446.9,297.6M452.6,283.2 453.1,283.6 453.6,284.1 454.1,284.8 454.6,285.6 455.1,286.4 455.4,286.9M461.0,300.8 461.4,302.0 461.7,303.2 462.0,304.3 462.3,305.4 462.5,306.4 462.8,307.4 463.0,308.3 463.2,309.4 463.3,309.9M467.3,334.8 467.7,337.1 468.0,339.3 468.4,341.5 468.8,343.7 469.2,345.8M473.7,369.0 474.1,370.8 474.5,372.5 474.9,374.2 475.3,375.8 475.7,377.4 475.9,378.1M481.6,391.4 482.1,391.8 482.7,392.2 483.2,392.5 483.7,392.6 484.3,392.7 484.6,392.7M490.8,387.2 491.5,386.5 492.2,385.8 492.9,385.2 493.7,384.5M500.2,378.9 501.1,378.4 502.0,378.0 502.9,377.7M509.1,377.2 510.2,377.2 511.2,377.2 512.2,377.2M518.7,376.1 519.8,375.9 521.0,375.7 521.5,375.6M528.1,373.8 529.4,373.4 530.7,372.9M537.3,370.1 538.6,369.6 540.0,369.1M546.6,367.5 547.9,367.3 549.2,367.2M555.7,366.7 557.0,366.5 558.3,366.3M565.4,364.4 566.7,364.0 567.4,363.7M574.7,362.2 576.1,362.2 576.8,362.2M584.0,363.2 585.5,363.5 586.3,363.6M593.2,364.2 594.8,364.1 595.6,364.0M602.1,363.1 603.8,362.8 604.6,362.7M612.1,362.2 613.7,362.3M621.2,363.8 622.8,364.2 623.6,364.4M630.1,365.9 631.7,366.2 632.5,366.3M639.5,367.0 641.2,367.1 642.1,367.2M648.6,367.6 649.6,367.7 650.0,367.7" fill="none" stroke="#000" stroke-width="2.8" stroke-linecap="round" clip-path="url(#ca)"/>
<path d="M805.8,156.8 C807.7,157.6 821.3,163.3 825.2,164.5 C829.1,165.7 841.2,169.0 844.5,169.0 C847.8,169.0 855.2,166.4 858.1,164.5 C861.0,162.6 870.7,152.2 873.6,150.0 C876.5,147.8 884.4,142.8 887.1,142.3 C889.8,141.8 898.2,144.6 900.7,145.2 C903.2,145.8 910.0,147.4 912.3,148.1 C914.6,148.8 921.6,150.4 923.9,152.0 C926.2,153.6 933.2,160.7 935.5,163.6 C937.8,166.5 945.2,178.1 947.1,181.0 C949.0,183.9 953.0,193.2 954.9,192.6 C956.8,192.0 964.4,179.7 966.5,175.2 C968.6,170.7 974.3,154.0 976.2,148.0 C978.1,142.0 984.3,119.2 985.9,115.2 C987.5,111.2 991.2,108.6 992.6,108.4 C994.0,108.2 997.8,109.6 999.4,113.0 C1001.0,116.4 1006.8,135.8 1009.1,142.3 C1011.4,148.8 1020.5,174.1 1022.6,178.1 C1024.7,182.1 1028.3,181.4 1030.0,182.0 C1031.7,182.6 1037.1,184.8 1039.1,183.9 C1041.1,183.0 1047.7,175.1 1049.8,173.3 C1051.9,171.5 1058.0,168.8 1060.0,165.5 C1062.0,162.2 1067.8,144.2 1069.7,140.3 C1071.6,136.4 1077.5,127.4 1079.4,126.8 C1081.3,126.2 1087.1,131.6 1089.0,134.5 C1090.9,137.4 1096.6,150.8 1098.7,155.8 C1100.8,160.8 1108.4,182.8 1110.3,184.9 C1112.2,187.0 1116.2,180.2 1118.0,177.1 C1119.8,174.0 1125.9,157.1 1127.8,153.9 C1129.7,150.7 1136.0,146.0 1137.4,145.0 C1138.9,144.0 1141.1,143.7 1142.3,144.0 C1143.5,144.3 1147.5,146.0 1149.0,148.0 C1150.5,150.0 1155.1,162.4 1156.8,163.6 C1158.5,164.8 1164.1,160.7 1166.0,159.7 C1167.9,158.7 1174.0,155.3 1176.0,153.9 C1178.0,152.5 1184.2,147.3 1185.8,146.1 C1187.4,144.9 1190.2,141.9 1191.7,142.3 C1193.2,142.7 1199.4,146.5 1201.3,150.0 C1203.2,153.5 1209.1,175.4 1211.0,177.1 C1212.9,178.8 1219.0,168.0 1220.7,167.4 C1222.4,166.8 1226.7,173.4 1228.4,171.3 C1230.1,169.2 1236.2,148.0 1238.1,146.1 C1240.0,144.2 1246.2,153.0 1247.8,152.0 C1249.3,151.0 1252.2,138.8 1253.6,136.5 C1255.0,134.2 1260.0,126.2 1261.4,128.7 C1262.8,131.2 1266.0,157.9 1267.2,161.6 C1268.4,165.3 1271.3,166.7 1273.0,165.5 C1274.7,164.3 1282.5,150.0 1284.6,150.0 C1286.7,150.0 1292.2,164.3 1294.3,165.5 C1296.4,166.7 1303.4,162.4 1305.9,161.6 C1308.4,160.8 1317.7,158.2 1319.0,157.8" fill="none" stroke="#ec86ec" stroke-width="3.2" stroke-linejoin="round" clip-path="url(#cb)"/>
<path d="M805.8,156.8 L823.2,156.2 L842.6,153.5" fill="none" stroke="#000" stroke-width="2.5" stroke-linejoin="round" clip-path="url(#cb)"/>
<path d="M842.6,153.5 L844.9,162" stroke="#000" stroke-width="2.5" fill="none"/>
<path d="M844.9,162.0 C847.1,161.3 853.3,160.6 858.1,157.8 C862.9,155.0 868.8,148.5 873.6,145.2 C878.4,141.9 882.6,138.7 887.1,138.0 C891.6,137.3 896.5,139.8 900.7,141.3 C904.9,142.8 908.1,145.2 912.3,147.1 C916.5,149.0 921.9,150.2 925.8,152.9 C929.7,155.7 932.0,158.6 935.5,163.6 C939.0,168.6 943.4,177.6 947.1,182.9 C950.8,188.2 954.6,195.5 957.8,195.5 C961.0,195.5 963.4,190.2 966.5,182.9 C969.6,175.7 973.0,162.3 976.2,152.0 C979.4,141.7 983.2,127.4 985.9,121.0 C988.6,114.6 990.4,113.9 992.6,113.6 C994.9,113.3 996.6,113.9 999.4,119.0 C1002.1,124.1 1005.9,135.8 1009.1,144.2 C1012.3,152.6 1015.6,163.9 1018.8,169.4 C1022.0,174.9 1025.0,175.4 1028.5,177.1 C1032.0,178.8 1036.2,179.7 1040.1,179.4 C1044.0,179.1 1048.4,177.3 1051.7,175.2 C1055.0,173.0 1057.0,172.0 1060.0,166.5 C1063.0,161.0 1066.0,148.9 1069.7,142.3 C1073.4,135.8 1078.4,128.5 1082.3,127.2 C1086.2,125.9 1089.5,128.8 1092.9,134.5 C1096.3,140.2 1099.0,154.3 1102.6,161.6 C1106.1,168.9 1110.3,177.1 1114.2,178.1 C1118.1,179.1 1121.3,172.4 1125.8,167.4 C1130.3,162.4 1136.8,150.0 1141.3,148.1 C1145.8,146.2 1149.0,153.1 1152.9,155.8 C1156.8,158.5 1160.6,164.3 1164.5,164.5 C1168.4,164.7 1172.0,160.6 1176.2,156.8 C1180.4,153.0 1185.5,143.0 1189.7,141.9 C1193.9,140.8 1197.1,144.9 1201.3,150.0 C1205.5,155.1 1211.0,168.6 1214.9,172.3 C1218.8,176.0 1221.0,175.1 1224.6,172.3 C1228.1,169.6 1232.3,160.5 1236.2,155.8 C1240.1,151.1 1243.3,144.8 1247.8,144.2 C1252.3,143.6 1258.5,149.4 1263.3,152.0 C1268.1,154.6 1272.0,158.0 1276.8,159.7 C1281.6,161.4 1287.1,161.9 1292.3,162.0 C1297.5,162.1 1303.3,161.2 1307.8,160.1 C1312.2,159.0 1317.1,156.3 1319.0,155.5" fill="none" stroke="#000" stroke-width="2.5" stroke-linejoin="round" clip-path="url(#cb)"/>
<path d="M805.8,365.2 C809.3,365.6 835.9,369.7 840.7,369.4 C845.5,369.1 851.7,363.7 854.2,362.3 C856.7,360.9 863.6,356.4 865.8,355.5 C868.0,354.6 874.4,352.8 876.5,353.2 C878.6,353.6 885.1,357.2 887.1,359.4 C889.1,361.6 894.9,371.6 896.8,374.9 C898.7,378.2 904.6,391.9 906.5,392.3 C908.4,392.7 914.5,383.9 916.2,378.7 C917.9,373.5 922.2,347.0 923.9,340.0 C925.6,333.0 931.9,310.6 933.6,309.0 C935.3,307.4 939.8,318.1 941.3,324.5 C942.8,330.9 947.5,363.9 949.0,373.0 C950.5,382.1 954.5,412.4 955.9,415.5 C957.3,418.6 961.5,406.0 962.6,403.9 C963.7,401.8 965.3,396.3 966.5,394.2 C967.7,392.1 972.8,385.3 974.2,382.6 C975.6,379.9 978.9,373.1 980.1,367.1 C981.3,361.1 984.5,329.7 985.9,322.6 C987.2,315.5 992.1,296.9 993.6,296.5 C995.1,296.1 999.9,311.6 1001.4,318.7 C1002.9,325.8 1007.8,359.0 1009.1,367.1 C1010.5,375.2 1013.5,397.1 1014.9,400.0 C1016.2,402.9 1020.9,399.1 1022.6,396.2 C1024.3,393.3 1030.5,373.6 1032.3,371.0 C1034.1,368.4 1039.5,370.8 1041.0,370.0 C1042.5,369.2 1046.3,361.5 1047.8,363.3 C1049.3,365.1 1054.4,386.3 1055.6,388.4 C1056.8,390.5 1058.8,388.1 1060.0,384.6 C1061.2,381.1 1066.0,359.9 1067.7,353.6 C1069.4,347.3 1075.7,322.2 1077.4,321.6 C1079.2,321.0 1083.5,344.2 1085.2,347.8 C1086.9,351.4 1093.1,353.9 1094.8,357.4 C1096.5,360.9 1100.9,375.3 1102.6,382.6 C1104.2,389.9 1109.8,426.7 1111.3,430.0 C1112.8,433.3 1116.3,424.7 1118.1,415.5 C1119.9,406.3 1127.7,350.7 1129.7,338.1 C1131.7,325.5 1137.0,294.5 1138.4,289.7 C1139.8,284.9 1142.2,285.8 1143.3,289.7 C1144.4,293.6 1147.8,317.4 1149.1,328.4 C1150.4,339.4 1155.3,388.2 1156.8,400.0 C1158.3,411.8 1163.1,444.9 1164.5,446.5 C1165.9,448.1 1169.4,421.3 1170.4,415.5 C1171.4,409.7 1173.0,392.7 1174.2,388.4 C1175.4,384.1 1180.2,381.8 1182.0,372.9 C1183.8,364.0 1190.1,307.5 1191.7,299.4 C1193.3,291.3 1197.1,287.7 1198.4,291.6 C1199.8,295.5 1203.9,327.6 1205.2,338.1 C1206.5,348.6 1210.0,387.1 1211.0,396.2 C1212.0,405.3 1213.9,428.1 1214.9,429.1 C1215.9,430.1 1219.5,410.6 1220.7,405.8 C1221.9,401.1 1225.0,383.3 1226.5,381.6 C1228.0,379.9 1234.7,392.0 1236.2,388.4 C1237.8,384.8 1240.3,353.0 1242.0,345.8 C1243.7,338.6 1251.6,319.3 1253.6,316.8 C1255.6,314.3 1260.9,313.7 1262.3,320.7 C1263.7,327.7 1266.1,377.4 1267.2,386.5 C1268.3,395.6 1271.5,413.6 1273.0,411.7 C1274.5,409.8 1281.0,372.3 1282.6,367.1 C1284.1,361.9 1287.2,358.2 1288.5,359.4 C1289.8,360.6 1293.9,378.7 1295.2,378.7 C1296.5,378.7 1300.5,361.8 1302.0,359.4 C1303.5,357.0 1308.6,353.7 1309.8,354.5 C1311.0,355.3 1312.7,367.2 1313.6,367.1 C1314.5,367.0 1318.5,355.0 1319.0,353.6" fill="none" stroke="#e21ee2" stroke-width="3.4" stroke-linejoin="round" clip-path="url(#cb)"/>
<path d="M805.8,365.2 C808.7,365.6 817.4,366.8 823.2,367.5 C829.0,368.2 835.5,370.4 840.7,369.4 C845.9,368.4 850.0,364.3 854.2,361.3 C858.4,358.3 861.9,354.1 865.8,351.6 C869.7,349.1 873.8,345.9 877.4,346.2 C881.0,346.5 883.9,349.2 887.1,353.6 C890.3,358.1 893.6,366.8 896.8,372.9 C900.0,379.0 903.3,389.8 906.5,390.4 C909.7,391.0 913.0,384.6 916.2,376.8 C919.4,369.1 922.6,352.7 925.8,343.9 C929.0,335.1 932.6,325.4 935.5,324.1 C938.4,322.8 940.7,328.3 943.3,336.1 C945.9,343.9 948.6,359.4 951.0,371.0 C953.4,382.6 955.7,396.9 957.8,405.8 C959.9,414.7 961.5,423.9 963.6,424.2 C965.7,424.5 968.0,416.7 970.4,407.8 C972.8,398.9 975.5,383.9 978.1,371.0 C980.7,358.1 983.6,339.7 985.9,330.3 C988.2,320.9 989.5,315.1 991.7,314.8 C994.0,314.5 996.5,319.7 999.4,328.4 C1002.3,337.1 1005.9,356.1 1009.1,367.1 C1012.3,378.1 1015.6,391.9 1018.8,394.2 C1022.0,396.5 1025.0,386.5 1028.5,380.7 C1032.0,374.9 1036.5,361.7 1040.1,359.4 C1043.6,357.1 1046.5,363.6 1049.8,367.1 C1053.1,370.7 1056.4,384.9 1060.0,380.7 C1063.6,376.5 1067.9,351.5 1071.6,342.0 C1075.3,332.5 1079.1,324.6 1082.3,323.6 C1085.5,322.6 1087.9,327.2 1091.0,336.1 C1094.1,345.0 1097.5,361.5 1100.7,376.8 C1103.9,392.1 1107.4,422.3 1110.3,428.1 C1113.2,433.9 1115.2,425.1 1118.1,411.7 C1121.0,398.3 1124.4,367.2 1127.8,347.8 C1131.2,328.4 1135.2,300.4 1138.4,295.5 C1141.6,290.6 1144.0,303.2 1147.1,318.7 C1150.2,334.2 1153.6,369.0 1156.8,388.4 C1160.0,407.8 1163.3,433.6 1166.5,434.9 C1169.7,436.2 1173.0,413.3 1176.2,396.2 C1179.4,379.1 1182.7,347.6 1185.8,332.3 C1188.9,317.0 1191.7,305.5 1194.6,304.2 C1197.5,302.9 1200.2,312.4 1203.3,324.5 C1206.4,336.6 1209.9,361.9 1213.0,376.8 C1216.1,391.7 1218.5,411.7 1221.7,413.6 C1224.9,415.5 1228.9,399.4 1232.3,388.4 C1235.7,377.4 1238.9,357.1 1242.0,347.8 C1245.1,338.5 1247.5,331.7 1250.7,332.7 C1253.9,333.7 1258.0,346.2 1261.4,353.6 C1264.8,361.0 1268.1,372.0 1271.0,376.8 C1273.9,381.6 1275.2,383.6 1278.8,382.6 C1282.3,381.6 1288.1,374.2 1292.3,371.0 C1296.5,367.8 1299.5,365.1 1303.9,363.3 C1308.4,361.5 1316.5,360.8 1319.0,360.3" fill="none" stroke="#000" stroke-width="2.5" stroke-linejoin="round" clip-path="url(#cb)"/>
<path d="M126.0,793.5 C130.9,793.0 145.7,791.6 155.5,790.6 C165.3,789.6 175.2,789.1 185.0,787.6 C194.8,786.1 204.7,782.8 214.5,781.8 C224.3,780.8 235.8,782.1 244.0,781.8 C252.2,781.5 257.7,780.5 263.6,779.8 C269.5,779.1 274.4,777.5 279.3,777.8 C284.2,778.1 288.8,780.0 293.1,781.8 C297.4,783.6 301.0,788.1 304.9,788.6 C308.8,789.1 312.1,788.3 316.7,784.7 C321.3,781.1 326.5,773.2 332.4,767.0 C338.3,760.8 345.6,751.3 352.1,747.4 C358.7,743.5 366.1,744.7 371.7,743.4 C377.3,742.1 381.6,741.7 386.0,739.5 C390.4,737.3 393.9,732.3 397.8,730.0 C401.7,727.7 405.7,725.9 409.6,725.7 C413.5,725.5 417.1,727.0 421.4,729.0 C425.6,731.0 430.9,735.4 435.1,737.5 C439.4,739.6 442.6,741.8 446.9,741.5 C451.2,741.2 456.1,737.7 460.7,735.6 C465.3,733.5 470.6,729.9 474.5,728.7 C478.4,727.6 480.7,727.2 484.3,728.7 C487.9,730.2 491.8,732.6 496.0,738.0 C500.2,743.4 505.2,753.5 509.8,761.1 C514.4,768.7 520.0,778.5 523.6,783.7 C527.2,789.0 528.2,792.4 531.5,792.6 C534.8,792.8 539.4,786.2 543.3,784.7 C547.2,783.2 551.2,782.9 555.1,783.7 C559.0,784.5 563.0,789.0 566.9,789.6 C570.8,790.2 574.4,790.1 578.6,787.6 C582.9,785.1 587.8,777.8 592.4,774.9 C597.0,772.0 601.3,771.0 606.2,770.0 C611.1,769.0 616.7,768.5 621.9,769.0 C627.1,769.5 632.9,771.4 637.6,772.9 C642.3,774.4 647.9,777.0 650.0,777.8" fill="none" stroke="#7cbf7c" stroke-width="3.2" stroke-linejoin="round" clip-path="url(#cc)"/>
<path d="M126.0,793.5 C129.3,793.4 139.1,792.8 145.7,792.6 C152.2,792.4 158.8,791.9 165.3,792.2 C171.9,792.5 179.1,794.6 185.0,794.5 C190.9,794.4 194.8,792.6 200.7,791.6 C206.6,790.6 214.5,788.8 220.4,788.6 C226.3,788.4 231.5,789.8 236.1,790.6 C240.7,791.4 243.3,794.0 247.9,793.5 C252.5,793.0 258.4,789.3 263.6,787.6 C268.8,785.9 274.4,783.8 279.3,783.3 C284.2,782.8 289.2,783.9 293.1,784.3 C297.0,784.7 299.6,786.6 302.9,785.7 C306.2,784.8 307.8,782.9 312.7,778.8 C317.6,774.7 325.8,766.2 332.4,761.1 C339.0,756.0 345.6,751.1 352.1,748.3 C358.7,745.5 366.1,746.5 371.7,744.4 C377.3,742.3 381.6,738.5 386.0,735.6 C390.4,732.7 393.9,728.7 397.8,726.7 C401.7,724.7 405.7,723.4 409.6,723.4 C413.5,723.4 417.1,724.0 421.4,726.7 C425.6,729.4 430.9,736.0 435.1,739.5 C439.4,743.0 443.3,746.6 446.9,747.4 C450.5,748.2 453.2,746.2 456.8,744.4 C460.4,742.6 465.0,738.5 468.6,736.5 C472.2,734.5 475.1,732.4 478.4,732.6 C481.7,732.8 484.6,734.1 488.2,737.5 C491.8,740.9 495.7,747.3 500.0,753.2 C504.3,759.1 509.2,767.3 513.8,772.9 C518.4,778.5 523.2,785.2 527.5,786.7 C531.8,788.2 535.4,783.0 539.3,781.8 C543.2,780.5 547.2,779.1 551.1,779.2 C555.0,779.4 559.0,780.8 562.9,782.7 C566.8,784.6 571.1,788.6 574.7,790.6 C578.3,792.6 581.2,794.7 584.5,794.5 C587.8,794.3 591.1,790.8 594.4,789.6 C597.7,788.4 600.3,786.8 604.2,787.1 C608.1,787.4 613.4,790.3 618.0,791.6 C622.6,792.9 626.4,795.1 631.7,794.9 C637.0,794.7 647.0,791.3 650.0,790.6" fill="none" stroke="#000" stroke-width="2.3" stroke-linejoin="round" clip-path="url(#cc)"/>
<path d="M126.0,793.5 127.1,793.5 128.5,793.6 129.0,793.6M135.5,793.8 136.5,793.8 137.6,793.8 138.1,793.8M145.0,794.0 146.2,794.1 147.4,794.1M154.2,794.3 155.4,794.3 156.6,794.4M163.7,794.6 164.8,794.6 165.9,794.7 166.4,794.7M172.9,794.9 174.0,795.0 175.0,795.0 175.7,795.0M182.0,795.2 183.7,795.2 184.5,795.2M191.7,795.7 193.2,796.1 194.0,796.3M201.0,799.5 202.9,800.7M210.2,805.1 212.0,805.9M219.0,806.2 220.7,805.6 221.5,805.2M228.1,800.7 229.8,799.4 230.6,798.7M237.6,793.5 239.2,792.4 239.9,791.9M246.5,787.0 248.0,786.0 249.4,785.1M256.1,781.7 257.6,781.1 258.4,780.8M265.3,778.9 266.8,778.7 268.2,778.6M274.3,779.9 275.4,780.6 276.4,781.3 277.3,782.2M283.8,789.1 284.8,790.2 285.8,791.4 286.2,792.0M292.6,799.8 293.6,800.6 294.6,801.2 295.6,801.6M301.8,799.8 302.8,799.2 303.8,798.6 304.7,798.2M311.2,798.3 311.8,798.6 312.4,798.9 313.0,799.3 313.6,799.6 314.2,800.0M320.2,807.4 320.7,808.2 321.2,809.0 321.7,809.8 322.2,810.7 322.7,811.6 323.0,812.1M329.2,822.4 330.0,823.8 330.9,825.2 331.7,826.6M338.1,830.4 338.7,829.9 339.4,829.1 340.0,828.2 340.7,827.1 341.0,826.5M346.5,811.4 347.2,808.9 347.8,806.2 348.5,803.5 348.8,802.1M353.7,783.2 354.4,780.9 355.0,778.6 355.7,776.3 356.3,774.1M361.9,757.8 362.5,756.1 363.2,754.5 363.8,753.0 364.2,752.3M370.5,743.9 371.2,743.6 371.9,743.4 372.6,743.4 373.2,743.4 373.5,743.4M379.6,748.5 380.0,749.3 380.5,750.1 380.9,750.9 381.4,751.6 381.8,752.3 382.2,752.9 382.6,753.3M387.8,769.0 388.4,772.4 389.1,775.9 389.8,779.6M394.5,803.0 395.1,805.5 395.7,807.8 396.2,810.0 396.5,811.1M401.6,831.0 402.1,833.8 402.7,836.8 403.3,839.9 403.6,841.4M408.5,861.5 409.1,862.7 409.7,863.6 410.3,864.4 410.9,864.9 411.5,865.3M417.3,858.5 417.7,857.0 418.1,855.5 418.5,853.9 418.8,852.4 419.2,850.8 419.6,849.2M423.8,824.6 424.2,820.6 424.6,816.1 425.0,811.4M427.5,782.2 427.9,778.3 428.3,774.9 428.7,772.1 429.1,769.6M434.1,751.4 434.4,750.3 434.8,749.2 435.1,748.3 435.4,747.4 435.8,746.5 436.1,745.8 436.4,745.1 436.8,744.5M442.5,749.8 442.8,751.5 443.2,753.3 443.5,755.3 443.8,757.3 444.2,759.4 444.5,761.6M447.6,788.5 447.9,791.4 448.3,794.3 448.7,797.1 449.1,799.9 449.3,801.2M453.8,824.2 454.3,826.6 454.8,828.9 455.2,831.1 455.7,833.2 455.9,834.2M461.0,850.3 461.4,850.1 461.7,849.7 462.1,849.2 462.4,848.6 462.8,847.8 463.1,847.1 463.5,846.2 463.8,845.4M468.7,825.9 469.1,823.7 469.4,821.4 469.8,818.9 470.2,816.4 470.6,813.7M474.0,788.1 474.4,784.9 474.8,781.8 475.2,778.6 475.6,775.4M479.6,750.2 480.2,746.8 480.8,743.6 481.4,740.5M487.2,729.0 487.6,730.0 488.1,731.2 488.6,732.8 489.1,734.7 489.7,736.8M494.6,760.0 495.6,764.9 496.0,767.4M500.8,792.8 501.2,795.1 501.6,797.3 501.9,799.2 502.1,800.9 502.4,802.5 502.5,803.3M507.8,821.0 508.3,822.0 508.8,822.8 509.3,823.5 509.8,824.0 510.3,824.3 510.8,824.5M516.9,817.8 517.5,816.4 518.2,814.8 518.8,813.1 519.5,811.4M525.2,799.2 525.9,798.1 526.5,797.1 527.2,796.1 527.8,795.2 528.2,794.8M534.3,794.2 535.1,795.0 535.8,795.9 536.5,796.8 537.2,797.8M543.6,804.7 544.2,805.2 544.7,805.7 545.3,806.0 545.9,806.2 546.2,806.3M552.9,801.4 553.6,800.5 554.4,799.6 555.2,798.8 555.6,798.4M561.9,791.0 562.8,790.1 563.8,789.4 564.3,789.1M571.2,791.5 572.6,793.0 573.3,793.8M580.2,800.6 581.4,801.2 582.6,801.4M589.2,795.1 590.1,793.5 591.1,791.9 592.0,790.3M598.0,781.3 599.0,779.6 600.0,777.9 600.5,777.1M607.0,771.1 607.7,771.5 608.4,772.3 609.1,773.2 609.7,774.4M615.6,788.2 616.3,789.7 617.0,791.2 617.6,792.8 618.3,794.3M624.1,807.5 624.8,809.1 625.4,810.6 626.1,812.0 626.7,813.2M633.0,813.7 633.8,812.5 634.7,811.1 635.6,809.7 636.0,808.9M641.8,798.3 642.5,796.9 643.3,795.4 643.9,793.9 644.6,792.5" fill="none" stroke="#3c983c" stroke-width="3.2" stroke-linecap="round" clip-path="url(#cc)"/>
<path d="M126.0,794.5 127.0,794.4 128.1,794.4 128.8,794.3M135.6,793.9 137.5,793.8 138.4,793.8M144.9,793.5 146.5,793.5 147.4,793.5M154.2,793.2 155.9,793.2 156.7,793.2M163.9,793.4 165.3,793.5 166.0,793.6M173.0,795.9 174.0,796.3 175.1,796.7 175.7,796.9M182.2,797.3 183.4,797.0 184.7,796.7M191.2,795.0 192.6,794.9 194.1,794.9M201.1,796.7 202.7,797.3M210.3,800.0 212.0,800.3M219.4,799.0 221.0,798.1 221.9,797.7M228.4,793.8 230.0,793.0 230.8,792.6M238.2,791.5 239.8,791.8M247.2,793.4 248.9,793.7 249.7,793.7M256.3,792.7 258.1,791.8 258.9,791.3M265.9,786.8 267.6,785.7 268.4,785.1M274.6,782.5 275.6,782.5 276.6,782.6 277.4,782.8M284.1,787.2 284.9,787.9 285.6,788.5 286.4,789.3 286.7,789.6M293.1,794.5 294.2,794.8 295.4,795.0 296.1,795.0M302.4,794.9 303.8,794.8 305.2,794.9M311.7,797.1 312.6,797.7 313.4,798.5 314.2,799.2 314.6,799.6M320.7,807.3 321.3,808.3 321.9,809.4 322.6,810.5 323.2,811.6 323.5,812.2M329.7,822.3 330.5,823.7 331.4,825.0 332.3,826.3M338.7,828.8 339.4,828.1 340.0,827.2 340.7,826.1 341.3,824.9M346.8,809.4 347.5,806.9 348.2,804.2 348.8,801.5 349.1,800.1M354.4,780.6 355.0,778.4 355.7,776.1 356.3,774.0 356.6,772.9M362.2,757.1 362.9,755.5 363.5,754.0 364.2,752.6 364.8,751.2M371.2,744.2 371.9,744.1 372.6,744.0 373.3,744.0 373.9,744.1M380.4,748.1 380.8,748.7 381.2,749.3 381.6,749.8 382.0,750.3 382.4,750.8 382.8,751.2 383.1,751.8M388.5,769.2 389.1,772.3 389.8,775.5 390.5,778.8M395.4,801.2 396.0,803.8 396.7,806.3 397.2,808.9 397.5,810.1M402.2,832.0 402.5,833.9 402.8,835.7 403.1,837.4 403.4,839.1 403.7,840.8 404.0,842.4 404.2,843.2M409.4,861.0 409.8,861.8 410.2,862.6 410.6,863.4 411.0,864.1 411.4,864.7 411.8,865.2 412.1,865.4M417.8,854.7 418.2,852.9 418.6,851.1 419.0,849.4 419.4,847.6 419.8,845.9 419.9,845.0M423.9,820.1 424.2,817.2 424.5,814.2 424.9,811.1 425.2,807.9M428.5,779.8 428.8,777.8 429.1,775.9 429.4,774.1 429.8,772.3 430.1,770.5 430.4,768.7M435.5,748.0 436.0,746.4 436.4,745.0 436.9,743.9 437.3,743.0 437.7,742.3 438.0,741.8M443.3,755.2 443.7,757.2 444.0,759.2 444.3,761.2 444.7,763.1 445.0,765.0 445.3,766.8M449.3,791.4 449.8,794.5 450.3,797.8 450.8,801.3 451.1,803.0M454.8,827.9 455.2,830.3 455.6,832.5 455.9,834.7 456.2,836.6 456.6,838.5 456.7,839.4M462.3,848.3 462.7,847.6 463.1,846.8 463.5,845.9 463.9,844.8 464.3,843.6 464.7,842.3 464.9,841.6M469.5,818.0 469.9,815.0 470.3,811.9 470.7,808.9 470.9,807.3M475.1,781.9 475.5,780.1 475.8,778.2 476.2,776.1 476.6,773.7 477.1,770.9M481.2,745.3 481.6,742.7 482.1,740.5 482.5,738.6 482.9,737.1 483.2,735.7M489.3,736.0 489.8,737.2 490.3,738.4 490.8,739.7 491.3,741.0 491.8,742.2M496.8,761.9 497.2,763.9 497.7,766.0 498.3,768.2 498.8,770.5 499.1,771.6M503.5,793.0 503.8,794.8 504.1,796.5 504.4,798.1 504.7,799.7 505.0,801.2 505.3,802.5 505.7,803.8M511.8,812.2 512.3,812.6 512.8,813.0 513.3,813.4 513.8,813.8 514.3,814.1 514.8,814.4M520.7,808.5 521.1,807.2 521.6,806.0 522.1,804.9 522.6,803.9 523.1,803.0 523.4,802.7M529.9,801.5 530.7,802.0 531.6,802.5 532.6,803.2M539.4,807.7 540.4,808.1 541.3,808.3 541.7,808.4M548.6,806.3 549.4,805.7 550.2,805.1 551.1,804.4M557.4,796.4 558.4,795.1 559.4,793.8 559.9,793.2M566.4,790.0 567.4,790.1 568.4,790.3 569.4,790.7M576.0,793.0 576.9,793.4 577.7,793.8 578.5,794.3M585.3,796.5 586.1,796.3 587.0,796.1 587.8,795.8M594.4,792.6 595.2,792.2 596.0,791.7 596.8,791.2 597.1,790.9M603.7,787.6 604.7,787.6 605.7,787.8 606.3,787.9M613.3,790.7 614.5,791.3 615.7,791.8M622.4,794.0 623.5,794.3 624.6,794.6 625.1,794.7M631.7,795.5 633.1,795.4 633.9,795.3M640.8,793.9 642.6,793.5 643.4,793.3" fill="none" stroke="#000" stroke-width="2.8" stroke-linecap="round" clip-path="url(#cc)"/>
<path d="M126.0,1005.2 C130.9,1005.0 145.7,1005.0 155.5,1004.2 C165.3,1003.4 175.8,1001.0 185.0,1000.6 C194.2,1000.2 203.3,1002.5 210.5,1001.8 C217.7,1001.1 222.6,997.8 228.2,996.3 C233.8,994.8 238.8,992.8 244.0,992.8 C249.2,992.8 255.1,994.9 259.7,996.3 C264.3,997.7 266.6,1002.4 271.5,1001.2 C276.4,1000.1 283.3,992.4 289.2,989.4 C295.1,986.4 301.3,984.0 306.9,983.5 C312.5,983.0 318.0,987.8 322.6,986.5 C327.2,985.2 330.1,982.9 334.7,975.7 C339.3,968.5 345.6,952.4 350.1,943.2 C354.6,934.0 357.6,925.8 361.9,920.6 C366.2,915.4 371.7,912.9 375.7,911.8 C379.7,910.7 381.7,910.8 386.0,913.8 C390.3,916.8 395.8,923.8 401.7,929.5 C407.6,935.2 415.8,947.2 421.4,948.2 C427.0,949.2 431.2,939.2 435.1,935.4 C439.0,931.6 441.4,928.3 445.0,925.6 C448.6,922.9 452.9,919.3 456.8,919.3 C460.7,919.3 464.7,922.1 468.6,925.6 C472.5,929.1 475.8,933.8 480.4,940.3 C485.0,946.8 490.9,957.5 496.1,964.9 C501.3,972.3 505.9,979.3 511.8,984.5 C517.7,989.7 525.0,993.2 531.5,996.3 C538.0,999.4 545.9,1002.9 551.1,1003.2 C556.3,1003.5 557.6,1000.4 562.9,998.3 C568.1,996.2 577.4,992.0 582.6,990.4 C587.9,988.8 589.5,988.3 594.4,988.5 C599.3,988.7 605.9,990.3 612.1,991.4 C618.3,992.5 625.4,994.6 631.7,995.3 C638.0,995.9 647.0,995.3 650.0,995.3" fill="none" stroke="#167816" stroke-width="3.2" stroke-linejoin="round" clip-path="url(#cc)"/>
<path d="M126.0,1005.2 C130.9,1005.2 145.7,1005.8 155.5,1005.2 C165.3,1004.6 175.8,1002.1 185.0,1001.8 C194.2,1001.5 203.3,1003.6 210.5,1003.2 C217.7,1002.8 222.0,1000.4 228.2,999.3 C234.4,998.1 241.0,995.9 247.9,996.3 C254.8,996.7 262.6,1002.4 269.5,1001.8 C276.4,1001.1 283.0,994.8 289.2,992.4 C295.4,990.0 301.0,988.1 306.9,987.5 C312.8,986.9 319.6,990.6 324.5,988.5 C329.4,986.4 332.0,981.9 336.3,974.7 C340.6,967.5 345.8,953.7 350.1,945.2 C354.4,936.7 358.0,928.7 361.9,923.6 C365.8,918.5 370.1,916.3 373.7,914.7 C377.3,913.1 380.8,913.7 383.5,913.8 C386.2,913.9 387.0,912.5 390.0,915.5 C393.0,918.5 396.8,925.7 401.7,931.5 C406.6,937.3 413.8,949.3 419.4,950.1 C425.0,950.9 430.8,940.5 435.1,936.4 C439.4,932.3 441.4,928.5 445.0,925.6 C448.6,922.8 452.9,919.3 456.8,919.3 C460.7,919.3 464.7,922.3 468.6,925.6 C472.5,928.9 475.8,933.1 480.4,939.3 C485.0,945.5 490.9,956.3 496.1,962.9 C501.3,969.5 505.6,974.5 511.8,978.6 C518.0,982.7 525.9,984.5 533.4,987.5 C540.9,990.5 550.5,994.5 557.0,996.3 C563.5,998.1 566.8,997.6 572.7,998.3 C578.6,999.0 585.8,999.6 592.4,1000.3 C599.0,1000.9 605.5,1002.1 612.1,1002.2 C618.7,1002.4 625.4,1001.2 631.7,1001.2 C638.0,1001.2 647.0,1002.0 650.0,1002.2" fill="none" stroke="#000" stroke-width="2.5" stroke-linejoin="round" clip-path="url(#cc)"/>
<path d="M126.0,1006.2 127.4,1006.2 128.3,1006.2M135.8,1006.2 137.2,1006.2 137.9,1006.1M145.0,1006.1 146.4,1006.1 147.1,1006.1M154.4,1006.2 155.5,1006.2 156.6,1006.2M163.6,1006.4 164.6,1006.4 165.6,1006.4 166.2,1006.5M173.0,1006.7 174.8,1006.8 175.7,1006.9M182.1,1007.4 183.5,1007.6 184.8,1007.8M191.4,1008.9 192.7,1009.0 194.1,1009.1M200.4,1008.6 202.2,1008.3 203.0,1008.2M209.9,1007.1 211.5,1007.0 212.3,1007.0M219.0,1008.6 220.2,1009.3 221.3,1010.0 221.8,1010.3M228.7,1013.0 229.8,1012.8 230.8,1012.4 231.4,1012.2M237.8,1007.9 238.7,1007.2 239.6,1006.5 240.4,1005.9M246.6,998.8 247.4,998.4 248.4,998.2 249.5,998.1M256.0,999.2 257.4,999.6 258.8,999.9M265.6,1000.1 266.9,999.8 268.3,999.5M275.0,997.6 276.3,997.2 277.5,996.8M284.2,994.6 285.2,994.2 286.2,993.8 286.7,993.7M293.3,994.9 294.0,995.6 294.6,996.4 295.2,997.3 295.8,998.2 296.1,998.7M302.1,1007.8 302.8,1009.0 303.7,1010.3 304.5,1011.5 304.9,1012.1M311.1,1018.9 312.1,1019.5 313.1,1020.1 314.1,1020.6M320.6,1024.0 321.6,1024.6 322.6,1025.3 323.1,1025.6M329.6,1029.9 330.5,1030.6 331.5,1031.3 332.4,1032.0M338.8,1038.3 339.5,1039.1 340.3,1039.7 341.1,1040.2 341.5,1040.4M347.8,1039.0 348.5,1038.3 349.0,1037.6 349.6,1036.6 350.1,1035.6 350.6,1034.4 350.8,1033.7M354.7,1010.2 355.0,1008.3 355.3,1006.4 355.7,1004.5 356.0,1002.6 356.3,1000.6 356.7,998.6M360.5,972.4 360.8,970.0 361.1,967.6 361.5,965.3 361.9,962.9 362.1,961.7M366.5,938.7 367.0,936.4 367.6,934.4 368.0,932.5 368.5,930.6 368.8,929.7M374.7,917.4 375.2,917.6 375.7,917.9 376.3,918.4 376.8,919.1 377.3,919.9 377.5,920.3M382.2,940.9 382.5,943.2 382.8,945.6 383.1,947.9 383.4,950.1 383.6,952.1 383.8,953.0M386.6,982.8 386.9,987.4 387.2,992.3 387.3,994.8M389.4,1025.4 389.7,1029.7 390.1,1033.6 390.5,1037.3 390.7,1039.0M394.4,1064.8 394.8,1067.1 395.2,1069.3 395.6,1071.4 396.0,1073.5 396.5,1075.5M402.1,1081.5 402.5,1080.2 402.9,1078.7 403.3,1077.1 403.7,1075.4 404.1,1073.7 404.5,1071.9M408.6,1048.6 409.0,1045.8 409.4,1042.9 409.8,1040.0 410.1,1037.0M413.0,1007.0 413.3,1003.8 413.7,1000.6 414.1,997.5 414.5,994.3M418.0,969.1 418.4,966.8 418.8,964.6 419.1,962.6 419.4,960.6 419.8,958.8 419.9,957.9M425.7,949.5 426.1,950.2 426.5,951.0 426.9,952.0 427.3,953.1 427.7,954.3 428.0,955.7 428.3,957.2M432.1,982.6 432.6,985.8 433.1,989.2 433.6,992.7 433.8,994.5M437.5,1021.3 438.0,1024.7 438.4,1028.2 438.8,1031.7M442.4,1060.0 442.7,1062.6 443.0,1065.1 443.4,1067.5 443.7,1069.9 444.0,1072.1M449.0,1089.7 449.4,1090.0 449.9,1090.1 450.3,1090.1 450.7,1089.9 451.1,1089.5 451.5,1088.8 451.9,1088.0M456.7,1067.5 457.0,1065.1 457.3,1062.5 457.6,1059.9 457.9,1057.2 458.2,1054.4M461.5,1027.9 461.9,1024.7 462.4,1021.5 462.8,1018.3 463.2,1015.1M466.4,987.3 466.7,984.3 467.0,981.3 467.3,978.4 467.7,975.5M472.1,952.1 472.6,950.1 473.1,948.1 473.6,946.3 474.1,944.7 474.5,943.2M480.3,937.2 480.8,938.0 481.4,938.9 481.9,939.9 482.4,941.0 482.9,942.1 483.2,942.6M488.4,959.6 488.8,960.8 489.2,962.0 489.6,963.3 490.0,964.5 490.4,965.7 490.8,967.0 491.0,967.6M495.9,987.4 496.3,989.3 496.7,991.2 497.1,993.0 497.6,994.7 498.0,996.3M503.7,1011.4 504.3,1012.6 504.9,1013.7 505.4,1014.8 506.0,1015.9 506.6,1017.0M512.7,1023.2 513.7,1023.4 514.7,1023.5 515.2,1023.5M522.1,1022.0 523.3,1021.6 524.4,1021.2 525.0,1021.0M531.5,1017.6 532.7,1016.8 533.9,1016.0M540.5,1012.4 541.6,1011.9 542.8,1011.3 543.4,1011.0M549.7,1008.4 550.8,1008.1 552.0,1008.1 552.5,1008.1M559.1,1011.1 560.2,1012.0 561.4,1012.9 562.0,1013.3M568.3,1016.1 569.2,1016.1 570.0,1016.1 570.8,1015.9 571.2,1015.8M577.6,1011.1 578.6,1010.0 579.6,1008.7 580.1,1008.0M586.6,998.5 587.6,997.3 588.5,996.3 589.4,995.4M595.5,990.0 596.3,989.7 597.1,989.4 597.9,989.4 598.3,989.4M604.8,994.4 605.6,995.4 606.5,996.4 607.3,997.3 607.7,997.8M613.9,1006.6 614.7,1007.8 615.5,1009.0 616.4,1010.1M622.8,1016.3 623.6,1016.8 624.4,1017.2 625.2,1017.6 625.6,1017.7M632.1,1016.4 633.2,1015.7 634.2,1015.0 634.7,1014.6M641.5,1009.9 642.5,1009.2 643.6,1008.5 644.1,1008.2" fill="none" stroke="#167816" stroke-width="3.2" stroke-linecap="round" clip-path="url(#cc)"/>
<path d="M126.0,1006.2 127.4,1006.2 128.3,1006.2M135.8,1006.2 137.2,1006.2 137.9,1006.1M145.0,1006.1 146.4,1006.1 147.1,1006.1M154.4,1006.2 155.5,1006.2 156.6,1006.2M163.6,1006.4 164.6,1006.4 165.6,1006.4 166.2,1006.5M173.0,1006.7 174.8,1006.8 175.7,1006.9M182.1,1007.4 183.5,1007.6 184.8,1007.8M191.4,1008.9 192.7,1009.0 194.1,1009.1M200.4,1008.6 202.2,1008.3 203.0,1008.2M209.9,1007.2 211.5,1007.1 212.3,1007.0M219.0,1008.3 220.2,1008.9 221.3,1009.5 221.8,1009.8M228.7,1012.0 229.8,1011.8 230.8,1011.5 231.4,1011.4M237.8,1007.7 238.7,1007.1 239.6,1006.5 240.4,1005.9M247.0,998.6 247.9,998.3 248.9,998.1 249.5,998.1M256.0,999.2 257.4,999.6 258.8,999.9M265.6,1000.1 266.9,999.8 268.3,999.5M275.0,997.6 276.3,997.2 277.5,996.8M284.2,994.6 285.2,994.2 286.2,993.9 286.7,993.7M293.3,994.7 294.0,995.4 294.6,996.1 295.2,996.9 295.8,997.7 296.1,998.2M302.1,1006.1 302.8,1007.2 303.7,1008.3 304.5,1009.3 304.9,1009.9M311.6,1015.8 312.6,1016.3 313.6,1016.7 314.1,1016.9M320.6,1019.9 321.6,1020.6 322.6,1021.2 323.6,1021.9M329.9,1027.1 330.9,1028.1 331.9,1029.2 332.4,1029.7M338.7,1039.3 339.7,1041.0 340.7,1042.5 341.2,1043.3M347.6,1044.6 348.1,1043.7 348.5,1042.6 348.9,1041.5 349.3,1040.2 349.7,1038.9 350.1,1037.6 350.3,1036.9M354.3,1012.0 354.7,1010.1 355.0,1008.2 355.3,1006.3 355.7,1004.4 356.0,1002.4 356.2,1001.5M360.0,975.9 360.3,973.5 360.6,971.2 361.0,968.8 361.3,966.5 361.7,964.1M366.0,941.1 366.5,938.7 367.0,936.4 367.6,934.4 368.0,932.5 368.3,931.5M373.9,917.6 374.5,917.4 375.0,917.5 375.5,917.7 376.0,918.2 376.5,918.7 376.8,919.1M381.8,937.4 382.1,939.7 382.4,942.1 382.7,944.4 383.0,946.7 383.2,949.0 383.4,950.1M386.3,978.6 386.6,982.8 386.9,987.4 387.2,992.3M389.2,1023.1 389.5,1027.6 389.9,1031.7 390.3,1035.5M394.0,1062.5 394.4,1064.8 394.8,1067.1 395.2,1069.3 395.6,1071.4 395.8,1072.5M401.4,1083.1 401.8,1082.1 402.3,1080.9 402.7,1079.5 403.1,1077.9 403.5,1076.3 403.9,1074.6M408.2,1051.3 408.6,1048.6 409.0,1045.8 409.4,1042.9 409.8,1040.0M412.6,1010.3 413.0,1007.0 413.3,1003.8 413.7,1000.6 414.1,997.5M417.6,971.6 418.0,969.1 418.4,966.8 418.8,964.6 419.1,962.6 419.4,960.6M425.1,948.7 425.5,949.2 425.9,949.8 426.3,950.6 426.7,951.5 427.1,952.5 427.5,953.7 427.7,954.3M431.6,979.5 432.1,982.6 432.6,985.8 433.1,989.2 433.3,990.9M437.1,1017.9 437.5,1021.3 438.0,1024.7 438.4,1028.2 438.6,1029.9M442.0,1057.3 442.4,1060.0 442.7,1062.6 443.0,1065.1 443.4,1067.5 443.5,1068.7M448.4,1088.9 448.8,1089.4 449.2,1089.8 449.7,1090.1 450.1,1090.1 450.5,1090.0 450.9,1089.7 451.3,1089.2M456.3,1069.8 456.7,1067.5 457.0,1065.1 457.3,1062.5 457.6,1059.9 457.8,1058.5M461.1,1031.0 461.5,1027.9 461.9,1024.7 462.4,1021.5 462.8,1018.3M466.1,990.4 466.4,987.3 466.7,984.3 467.0,981.3 467.3,978.4M471.6,954.3 472.1,952.1 472.6,950.1 473.1,948.1 473.6,946.3 473.8,945.5M479.8,936.5 480.3,937.2 480.8,938.0 481.4,938.9 481.9,939.9 482.4,941.0M487.8,957.8 488.2,959.0 488.6,960.2 489.0,961.4 489.4,962.7 489.8,963.9 490.2,965.1 490.4,965.7M495.4,985.4 495.7,987.3 496.1,989.2 496.6,991.0 497.0,992.9 497.5,994.6M503.4,1009.6 504.1,1011.0 504.8,1012.2 505.5,1013.4 505.9,1014.0M512.2,1020.7 513.1,1021.3 513.9,1021.9 514.8,1022.4M521.7,1025.7 522.7,1025.9 523.7,1026.1 524.2,1026.1M531.1,1024.2 532.3,1023.5 533.6,1022.6M540.4,1017.8 541.8,1016.9 542.6,1016.4M549.5,1012.6 551.2,1011.7 552.0,1011.3M558.7,1008.0 560.4,1007.2 561.3,1006.9M567.8,1004.2 569.5,1003.6 570.3,1003.3M576.9,1001.3 578.5,1000.9 579.3,1000.7M586.7,1000.4 588.3,1000.6 589.1,1000.7M595.7,1002.1 597.3,1002.5 598.1,1002.6M605.4,1003.3 606.9,1003.3 607.7,1003.3M614.7,1003.1 616.4,1003.1M623.5,1003.3 624.6,1003.4 625.8,1003.5 626.4,1003.6M633.1,1004.2 634.4,1004.4 635.1,1004.5M642.4,1005.3 643.6,1005.5 644.8,1005.6" fill="none" stroke="#000" stroke-width="2.8" stroke-linecap="round" clip-path="url(#cc)"/>
<path d="M811.9,796.2 C813.2,796.9 821.9,802.1 824.7,803.5 C827.5,804.9 836.9,811.1 839.5,810.4 C842.1,809.7 848.5,800.0 850.4,796.6 C852.3,793.2 856.9,779.6 858.3,776.8 C859.7,774.0 862.8,768.5 864.2,768.5 C865.6,768.5 870.5,775.0 872.1,776.8 C873.7,778.6 878.6,784.5 880.0,786.7 C881.4,788.9 884.7,796.9 885.9,798.5 C887.1,800.1 890.6,802.7 891.8,802.5 C893.0,802.3 896.8,797.9 897.7,796.6 C898.6,795.4 900.2,789.9 901.0,790.0 C901.8,790.1 904.4,795.9 905.6,797.5 C906.9,799.1 912.3,804.2 913.5,806.4 C914.7,808.6 916.5,818.5 917.5,819.2 C918.5,819.9 922.2,815.4 923.4,813.3 C924.6,811.2 928.1,802.7 929.3,798.5 C930.5,794.3 934.0,773.1 935.2,770.9 C936.4,768.7 939.9,774.0 941.1,776.8 C942.3,779.6 945.7,794.2 947.1,798.5 C948.5,802.8 953.4,818.2 955.0,820.2 C956.6,822.2 961.5,822.8 962.9,818.3 C964.3,813.8 967.6,781.1 968.8,774.8 C970.0,768.5 973.8,758.9 974.7,755.1 C975.6,751.3 976.9,736.2 977.7,736.4 C978.5,736.6 981.7,753.9 982.6,757.1 C983.5,760.4 985.3,766.5 986.5,768.9 C987.7,771.3 992.8,776.5 994.4,780.8 C996.0,785.1 1000.9,805.4 1002.3,812.3 C1003.7,819.2 1007.0,847.2 1008.2,849.8 C1009.4,852.4 1012.8,840.6 1014.2,838.0 C1015.6,835.4 1020.6,827.2 1022.0,824.2 C1023.4,821.2 1027.0,814.3 1028.0,808.4 C1029.0,802.5 1030.7,766.4 1031.9,765.0 C1033.1,763.6 1038.4,793.2 1039.8,794.6 C1041.2,796.0 1044.3,779.6 1045.7,778.8 C1047.1,778.0 1052.4,787.9 1053.6,786.7 C1054.8,785.5 1056.7,769.7 1057.6,767.0 C1058.5,764.3 1061.7,758.4 1062.5,760.0 C1063.3,761.6 1064.9,780.0 1065.5,782.7 C1066.1,785.4 1068.2,783.0 1068.9,786.7 C1069.6,790.5 1072.1,814.7 1072.9,820.2 C1073.7,825.7 1075.6,840.7 1076.8,841.9 C1078.0,843.1 1083.5,835.9 1084.7,832.1 C1085.9,828.4 1087.7,809.1 1088.7,804.4 C1089.7,799.7 1093.2,787.1 1094.6,784.7 C1096.0,782.3 1100.8,783.3 1102.5,780.8 C1104.2,778.3 1110.0,760.6 1111.4,760.0 C1112.8,759.4 1115.4,776.1 1116.3,774.8 C1117.2,773.5 1119.2,747.4 1120.2,747.2 C1121.2,747.0 1125.0,764.8 1126.2,772.9 C1127.4,781.0 1130.9,819.8 1132.1,828.1 C1133.3,836.4 1136.8,851.8 1138.0,855.7 C1139.2,859.7 1142.7,870.4 1143.9,867.6 C1145.1,864.8 1148.6,839.4 1149.8,828.1 C1151.0,816.9 1154.6,765.0 1155.8,755.1 C1157.0,745.2 1160.8,734.6 1161.7,729.5 C1162.6,724.4 1164.4,703.8 1165.2,703.8 C1166.0,703.8 1168.6,722.6 1169.6,729.5 C1170.6,736.4 1174.4,762.2 1175.5,772.9 C1176.6,783.5 1179.4,831.5 1180.4,836.0 C1181.4,840.5 1184.3,819.1 1185.4,818.3 C1186.5,817.5 1190.1,826.5 1191.3,828.1 C1192.5,829.7 1195.8,836.8 1197.2,834.0 C1198.6,831.2 1203.7,808.0 1205.1,800.5 C1206.5,793.0 1210.0,765.4 1211.0,759.1 C1212.0,752.8 1214.2,740.4 1215.0,737.4 C1215.8,734.4 1218.3,725.2 1218.9,729.5 C1219.5,733.8 1220.1,772.7 1220.9,780.8 C1221.7,788.9 1225.9,805.4 1226.8,810.4 C1227.7,815.4 1229.0,830.9 1229.8,831.1 C1230.6,831.3 1233.6,815.0 1234.7,812.3 C1235.8,809.6 1239.4,804.4 1240.6,804.4 C1241.8,804.4 1245.1,814.3 1246.5,812.3 C1247.9,810.3 1252.8,789.8 1254.4,784.7 C1256.0,779.6 1260.7,764.8 1262.3,761.0 C1263.9,757.2 1269.0,746.4 1270.2,747.2 C1271.4,748.0 1273.2,761.8 1274.2,768.9 C1275.2,776.0 1278.9,809.4 1280.1,818.3 C1281.3,827.2 1284.8,858.3 1286.0,857.7 C1287.2,857.1 1290.5,819.8 1291.9,812.3 C1293.3,804.8 1298.2,788.2 1299.8,782.7 C1301.4,777.2 1306.3,758.9 1307.7,757.1 C1309.1,755.3 1312.4,763.0 1313.6,765.0 C1314.8,767.0 1318.4,773.4 1319.5,776.8 C1320.6,780.1 1324.0,796.3 1324.5,798.5" fill="none" stroke="#7cbf7c" stroke-width="3.2" stroke-linejoin="round" clip-path="url(#cd)"/>
<path d="M811.9,796.2 L834.6,796.2 L864.2,795.8 L870.1,794.6" fill="none" stroke="#000" stroke-width="2.5" stroke-linejoin="round" clip-path="url(#cd)"/>
<path d="M870.1,794.6 L872.5,798.9" stroke="#000" stroke-width="2.5" fill="none"/>
<path d="M872.5,798.9 C874.4,799.5 880.4,801.2 883.9,802.5 C887.4,803.8 889.7,804.3 893.8,806.4 C897.9,808.5 904.6,815.0 908.6,815.3 C912.6,815.6 914.7,813.5 917.5,808.4 C920.3,803.3 922.9,790.3 925.4,784.7 C927.9,779.1 929.7,774.1 932.3,774.8 C934.9,775.5 938.3,782.5 941.1,788.7 C943.9,795.0 946.5,806.2 949.0,812.3 C951.5,818.4 953.6,824.5 955.9,825.2 C958.2,825.9 960.4,823.7 962.9,816.3 C965.4,808.9 968.4,790.7 970.7,780.8 C973.0,770.9 974.7,762.4 976.7,757.1 C978.7,751.8 980.5,748.1 982.6,748.8 C984.7,749.4 986.9,753.0 989.5,761.0 C992.1,769.0 995.9,786.1 998.4,796.6 C1000.9,807.1 1002.3,817.0 1004.3,824.2 C1006.3,831.4 1008.2,838.7 1010.2,840.0 C1012.2,841.3 1013.5,838.7 1016.1,832.1 C1018.7,825.5 1023.0,809.7 1026.0,800.5 C1029.0,791.3 1031.3,781.8 1033.9,776.8 C1036.5,771.8 1038.8,770.8 1041.8,770.5 C1044.8,770.2 1048.4,771.8 1051.7,774.8 C1055.0,777.8 1059.3,785.4 1061.5,788.7 C1063.7,792.0 1063.1,790.0 1065.0,794.6 C1066.9,799.2 1069.9,810.0 1072.9,816.3 C1075.9,822.6 1079.5,833.8 1082.8,832.5 C1086.1,831.2 1089.3,819.6 1092.6,808.4 C1095.9,797.1 1099.3,776.0 1102.5,765.0 C1105.7,754.0 1109.0,743.9 1112.0,742.3 C1115.0,740.6 1117.5,746.0 1120.2,755.1 C1122.9,764.2 1125.1,780.2 1128.1,796.6 C1131.1,813.0 1134.7,850.5 1138.0,853.8 C1141.3,857.1 1144.6,831.8 1147.9,816.3 C1151.2,800.8 1154.8,773.4 1157.7,761.0 C1160.6,748.6 1162.6,742.0 1165.2,741.7 C1167.8,741.4 1170.5,747.3 1173.5,759.1 C1176.5,770.9 1180.4,798.3 1183.4,812.3 C1186.4,826.3 1188.3,842.9 1191.3,842.9 C1194.2,842.9 1198.1,824.0 1201.1,812.3 C1204.0,800.6 1206.5,782.3 1209.0,772.9 C1211.5,763.5 1213.3,756.1 1215.9,756.1 C1218.5,756.1 1222.0,764.2 1224.8,772.9 C1227.6,781.6 1230.1,799.0 1232.7,808.4 C1235.3,817.8 1237.6,828.1 1240.6,829.1 C1243.6,830.1 1247.5,822.7 1250.5,814.3 C1253.5,805.9 1255.9,787.2 1258.4,778.8 C1260.9,770.4 1262.7,764.0 1265.3,764.0 C1267.9,764.0 1271.4,771.4 1274.2,778.8 C1277.0,786.2 1279.5,800.3 1282.1,808.4 C1284.7,816.5 1287.0,827.8 1290.0,827.1 C1293.0,826.4 1296.8,813.4 1299.8,804.4 C1302.8,795.4 1305.1,779.7 1307.7,772.9 C1310.3,766.1 1312.9,763.7 1315.2,763.4 C1317.5,763.1 1319.9,768.1 1321.5,770.9 C1323.1,773.7 1324.4,778.5 1325.0,780.0" fill="none" stroke="#000" stroke-width="2.5" stroke-linejoin="round" clip-path="url(#cd)"/>
<path d="M811.0,1004.7 C811.6,1005.1 814.2,1007.1 816.8,1008.3 C819.4,1009.5 833.6,1017.1 836.6,1017.1 C839.6,1017.1 844.6,1010.8 846.4,1008.3 C848.2,1005.8 852.8,994.5 854.3,992.5 C855.8,990.5 859.6,988.1 861.2,988.5 C862.8,988.9 868.2,994.7 870.1,996.4 C872.0,998.1 878.2,1003.9 880.0,1005.3 C881.8,1006.7 886.5,1010.7 887.9,1010.2 C889.3,1009.7 892.6,1002.0 893.8,1000.4 C895.0,998.8 898.5,995.0 899.7,994.4 C900.9,993.8 904.2,992.8 905.6,994.4 C907.0,996.0 911.7,1007.4 913.5,1010.2 C915.3,1013.0 921.8,1023.3 923.4,1022.1 C925.0,1020.9 928.1,1002.4 929.3,998.4 C930.5,994.4 933.8,982.2 935.2,982.6 C936.6,983.0 941.7,998.0 943.1,1002.3 C944.5,1006.6 947.6,1022.0 949.0,1026.0 C950.4,1030.0 955.5,1041.4 956.9,1041.8 C958.3,1042.2 961.7,1035.9 962.9,1030.0 C964.1,1024.1 967.8,990.7 968.8,982.6 C969.8,974.5 971.9,953.4 972.7,949.1 C973.5,944.8 975.9,939.0 976.7,939.2 C977.5,939.4 979.8,948.2 980.6,951.0 C981.4,953.8 983.6,963.6 984.6,966.8 C985.6,970.0 989.3,979.4 990.5,982.6 C991.7,985.8 995.2,992.9 996.4,998.4 C997.6,1003.9 1001.1,1030.8 1002.3,1037.9 C1003.5,1045.0 1007.0,1067.0 1008.2,1069.4 C1009.4,1071.8 1013.0,1065.6 1014.2,1061.5 C1015.4,1057.4 1018.9,1036.1 1020.1,1028.0 C1021.3,1019.9 1025.0,987.3 1026.0,980.6 C1027.0,973.9 1029.1,962.5 1030.0,960.9 C1030.9,959.3 1033.7,961.0 1034.9,964.8 C1036.1,968.5 1040.3,995.5 1041.8,998.4 C1043.3,1001.3 1048.5,992.5 1049.7,993.5 C1050.9,994.5 1052.4,1008.0 1053.6,1008.3 C1054.8,1008.6 1060.4,998.0 1061.5,996.4 C1062.6,994.8 1064.1,993.0 1065.0,992.5 C1065.9,992.0 1069.7,989.3 1070.9,991.5 C1072.1,993.7 1075.5,1009.4 1076.8,1014.2 C1078.1,1019.0 1082.1,1038.6 1083.7,1039.8 C1085.3,1041.0 1091.3,1028.8 1092.6,1026.0 C1093.9,1023.2 1095.6,1014.8 1096.6,1012.2 C1097.6,1009.6 1101.2,1001.7 1102.5,1000.4 C1103.8,999.1 1108.0,1001.2 1109.4,999.4 C1110.8,997.6 1115.2,989.1 1116.3,982.6 C1117.4,976.1 1119.3,939.0 1120.2,934.3 C1121.1,929.6 1124.2,931.2 1125.2,935.2 C1126.2,939.2 1128.8,964.4 1130.1,974.7 C1131.4,985.0 1136.6,1027.0 1138.0,1037.9 C1139.4,1048.9 1142.6,1079.4 1143.9,1084.2 C1145.2,1089.0 1149.6,1090.4 1150.8,1086.2 C1152.0,1082.0 1154.7,1053.7 1155.8,1041.8 C1156.9,1029.9 1160.5,980.0 1161.7,966.8 C1162.9,953.6 1166.5,916.4 1167.6,909.6 C1168.7,902.8 1171.5,896.7 1172.5,898.7 C1173.5,900.7 1176.4,917.6 1177.5,929.3 C1178.6,941.0 1182.0,1007.6 1183.4,1016.1 C1184.8,1024.6 1190.1,1012.4 1191.3,1014.2 C1192.5,1016.0 1194.0,1027.0 1195.2,1033.9 C1196.4,1040.8 1201.3,1081.6 1203.1,1083.2 C1204.9,1084.8 1211.4,1061.1 1213.0,1049.7 C1214.6,1038.3 1217.6,982.8 1218.9,968.8 C1220.2,954.8 1224.6,910.6 1225.8,909.6 C1227.0,908.6 1229.6,949.8 1230.7,958.9 C1231.8,968.0 1235.6,995.1 1236.7,1000.4 C1237.8,1005.7 1240.7,1012.4 1241.6,1012.2 C1242.5,1012.0 1244.6,996.2 1245.5,998.4 C1246.4,1000.6 1249.0,1027.4 1250.5,1033.9 C1252.0,1040.4 1258.7,1061.5 1260.3,1063.5 C1261.9,1065.5 1264.9,1062.1 1266.3,1053.6 C1267.7,1045.1 1272.8,990.1 1274.2,978.7 C1275.6,967.3 1278.7,940.2 1280.1,939.2 C1281.5,938.2 1286.9,962.4 1288.0,968.8 C1289.1,975.2 1289.7,1000.5 1290.9,1003.3 C1292.1,1006.1 1298.1,995.9 1299.8,996.4 C1301.5,996.9 1306.3,1004.8 1307.7,1008.3 C1309.1,1011.8 1312.2,1029.7 1313.6,1031.9 C1315.0,1034.1 1320.4,1031.4 1321.5,1030.0 C1322.6,1028.6 1324.2,1019.3 1324.5,1018.1" fill="none" stroke="#167816" stroke-width="3.4" stroke-linejoin="round" clip-path="url(#cd)"/>
<path d="M811.0,1004.7 L834.6,1004.7 L864.2,1003.7 L870.1,1002.7" fill="none" stroke="#000" stroke-width="2.3" stroke-linejoin="round" clip-path="url(#cd)"/>
<path d="M870.1,1002.7 L872.5,1007.9" stroke="#000" stroke-width="2.3" fill="none"/>
<path d="M872.5,1007.9 C874.4,1008.3 880.7,1009.7 883.9,1010.2 C887.1,1010.8 888.8,1010.2 891.8,1011.2 C894.8,1012.2 898.7,1015.0 901.7,1016.1 C904.7,1017.2 907.0,1018.9 909.6,1018.1 C912.2,1017.3 914.9,1015.5 917.5,1011.2 C920.1,1006.9 923.1,996.6 925.4,992.5 C927.7,988.4 929.0,985.6 931.3,986.6 C933.6,987.6 936.6,992.5 939.2,998.4 C941.8,1004.3 944.3,1015.9 947.1,1022.1 C949.9,1028.4 953.3,1035.9 955.9,1035.9 C958.5,1035.9 960.4,1031.6 962.9,1022.1 C965.4,1012.6 968.4,989.9 970.7,978.7 C973.0,967.5 974.9,960.1 976.7,955.0 C978.5,949.9 979.6,946.5 981.6,948.1 C983.6,949.7 986.0,954.8 988.5,964.8 C991.0,974.8 994.1,995.1 996.4,1008.3 C998.7,1021.5 1000.3,1034.9 1002.3,1043.8 C1004.3,1052.7 1006.2,1060.2 1008.2,1061.5 C1010.2,1062.8 1011.9,1059.6 1014.2,1051.7 C1016.5,1043.8 1019.7,1025.7 1022.0,1014.2 C1024.3,1002.7 1026.2,990.0 1028.0,982.6 C1029.8,975.2 1030.6,968.5 1032.9,969.8 C1035.2,971.1 1039.0,984.2 1041.8,990.5 C1044.6,996.8 1047.4,1003.8 1049.7,1007.3 C1052.0,1010.8 1053.3,1012.0 1055.6,1011.2 C1057.9,1010.4 1061.0,1004.7 1063.5,1002.3 C1066.0,999.9 1068.0,994.5 1070.9,996.8 C1073.8,999.1 1077.2,1008.9 1080.8,1016.1 C1084.4,1023.3 1089.0,1040.8 1092.6,1039.8 C1096.2,1038.8 1099.5,1022.7 1102.5,1010.2 C1105.5,997.7 1107.8,975.8 1110.4,964.8 C1113.0,953.8 1115.7,944.4 1118.3,944.1 C1120.9,943.8 1123.6,951.2 1126.2,962.9 C1128.8,974.6 1130.8,995.0 1134.1,1014.2 C1137.4,1033.4 1142.3,1073.7 1145.9,1078.3 C1149.5,1082.9 1152.8,1060.0 1155.8,1041.8 C1158.8,1023.5 1160.8,987.9 1163.7,968.8 C1166.6,949.7 1170.1,929.7 1173.1,927.4 C1176.0,925.1 1178.4,939.2 1181.4,955.0 C1184.4,970.8 1188.0,1001.9 1191.3,1022.1 C1194.6,1042.3 1197.8,1073.0 1201.1,1076.3 C1204.4,1079.6 1207.7,1059.7 1211.0,1041.8 C1214.3,1023.9 1218.0,985.1 1220.9,968.8 C1223.8,952.5 1225.8,944.1 1228.4,944.1 C1231.0,944.1 1233.7,955.8 1236.7,968.8 C1239.7,981.8 1243.2,1008.5 1246.5,1022.1 C1249.8,1035.8 1253.1,1049.7 1256.4,1050.7 C1259.7,1051.7 1263.0,1039.3 1266.3,1028.0 C1269.6,1016.6 1273.1,992.0 1276.1,982.6 C1279.1,973.2 1281.4,970.5 1284.4,971.8 C1287.4,973.1 1290.7,983.8 1293.9,990.5 C1297.1,997.2 1300.5,1006.6 1303.8,1012.2 C1307.1,1017.8 1310.1,1023.4 1313.6,1024.0 C1317.0,1024.7 1322.7,1017.4 1324.5,1016.1" fill="none" stroke="#000" stroke-width="2.3" stroke-linejoin="round" clip-path="url(#cd)"/>
<path d="M196.0,1760.1 C201.2,1759.0 216.9,1756.2 227.3,1753.8 C237.7,1751.4 249.8,1748.3 258.5,1745.5 C267.2,1742.7 274.2,1739.7 279.4,1737.1 C284.6,1734.5 286.3,1732.9 289.8,1729.8 C293.3,1726.7 296.7,1722.7 300.2,1718.4 C303.7,1714.1 307.2,1709.0 310.7,1703.8 C314.2,1698.6 318.0,1694.0 321.1,1687.1 C324.2,1680.2 326.7,1670.8 329.3,1662.5 C331.9,1654.2 334.2,1646.9 336.9,1637.0 C339.6,1627.1 342.5,1615.8 345.4,1603.0 C348.3,1590.2 351.7,1573.2 354.2,1560.0 C356.7,1546.8 358.5,1533.6 360.6,1523.8 C362.7,1514.0 365.0,1507.4 366.7,1501.0 C368.4,1494.6 368.9,1490.9 370.8,1485.6 C372.8,1480.3 376.3,1472.4 378.4,1469.0 C380.5,1465.6 381.6,1465.4 383.5,1465.2 C385.4,1465.0 386.9,1464.8 389.9,1467.8 C392.9,1470.8 397.9,1478.4 401.3,1483.1 C404.7,1487.8 407.1,1491.6 410.3,1495.8 C413.5,1500.0 416.6,1504.5 420.4,1508.5 C424.2,1512.5 428.9,1516.6 433.2,1520.0 C437.4,1523.4 441.9,1526.4 445.9,1528.9 C449.9,1531.5 453.4,1533.7 457.4,1535.3 C461.4,1536.9 463.8,1537.2 470.0,1538.5 C476.2,1539.8 488.6,1543.2 494.5,1543.3 C500.4,1543.4 500.9,1540.5 505.5,1539.0 C510.1,1537.5 515.4,1535.3 521.9,1534.1 C528.4,1532.9 538.0,1531.5 544.8,1531.6 C551.6,1531.7 557.2,1533.3 562.9,1534.9 C568.6,1536.5 573.8,1539.6 579.2,1541.4 C584.7,1543.2 590.1,1544.7 595.6,1545.5 C601.1,1546.3 606.5,1546.4 612.0,1546.3 C617.5,1546.2 622.9,1545.5 628.4,1544.7 C633.9,1543.9 640.0,1542.5 644.8,1541.4 C649.6,1540.3 655.0,1538.6 657.0,1538.1" fill="none" stroke="#000" stroke-width="4.2" stroke-linejoin="round" clip-path="url(#ce)"/>
<path d="M196.0,1755.4 C199.5,1754.8 209.9,1752.9 216.8,1751.7 C223.8,1750.5 230.8,1749.8 237.7,1748.1 C244.6,1746.4 251.6,1744.0 258.5,1741.3 C265.4,1738.6 274.2,1734.5 279.4,1731.9 C284.6,1729.3 286.3,1728.7 289.8,1725.7 C293.3,1722.8 296.7,1718.2 300.2,1714.2 C303.7,1710.2 307.2,1706.6 310.7,1701.7 C314.2,1696.8 317.7,1691.5 321.1,1685.0 C324.5,1678.5 328.1,1670.5 331.0,1662.5 C333.9,1654.5 335.8,1646.9 338.5,1637.0 C341.2,1627.1 344.4,1614.3 347.1,1603.0 C349.8,1591.7 352.4,1580.3 354.8,1569.0 C357.2,1557.7 359.2,1546.3 361.6,1535.0 C364.0,1523.7 367.2,1508.5 369.2,1501.0 C371.1,1493.5 371.3,1494.7 373.3,1490.0 C375.3,1485.3 378.7,1477.2 381.0,1472.9 C383.3,1468.6 385.3,1465.7 387.3,1464.0 C389.3,1462.3 391.1,1463.0 393.0,1463.0 C394.9,1463.0 396.1,1461.3 398.8,1464.0 C401.5,1466.7 406.0,1474.5 409.0,1479.2 C412.0,1483.9 413.9,1487.8 416.6,1492.0 C419.4,1496.2 422.1,1500.7 425.5,1504.7 C428.9,1508.7 433.4,1513.0 437.0,1516.2 C440.6,1519.4 443.8,1521.5 447.2,1523.8 C450.6,1526.1 453.6,1528.3 457.4,1530.2 C461.2,1532.1 466.9,1533.8 470.0,1535.0 C473.1,1536.2 473.6,1537.2 475.8,1537.3 C478.0,1537.4 480.5,1535.4 483.0,1535.5 C485.5,1535.6 486.9,1538.3 490.7,1538.0 C494.5,1537.7 500.7,1534.8 505.6,1533.6 C510.5,1532.4 515.4,1532.0 520.0,1530.6 C524.6,1529.2 527.6,1526.1 533.4,1525.0 C539.2,1523.9 548.4,1523.7 554.7,1524.2 C561.0,1524.8 565.5,1527.2 571.0,1528.3 C576.5,1529.4 581.9,1529.4 587.4,1530.8 C592.9,1532.2 598.3,1535.4 603.8,1536.5 C609.3,1537.6 614.7,1537.0 620.2,1537.3 C625.7,1537.6 630.5,1538.3 636.6,1538.6 C642.7,1538.9 653.6,1538.9 657.0,1539.0" fill="none" stroke="#107a10" stroke-width="4.5" stroke-linejoin="round" clip-path="url(#ce)"/>
<path d="M196.0,1761.1 C197.7,1760.9 203.8,1760.8 206.4,1760.1 C209.0,1759.4 209.0,1758.0 211.6,1757.0 C214.2,1756.0 218.8,1755.3 222.1,1754.3 C225.4,1753.2 229.2,1750.9 231.4,1750.7 C233.7,1750.5 233.2,1753.1 235.6,1753.3 C238.0,1753.5 242.2,1754.0 246.0,1751.7 C249.8,1749.4 254.3,1742.3 258.5,1739.2 C262.7,1736.1 267.6,1733.9 271.1,1733.0 C274.6,1732.1 276.6,1734.7 279.4,1734.0 C282.2,1733.3 285.6,1731.0 287.7,1728.8 C289.8,1726.5 289.8,1724.3 291.9,1720.5 C294.0,1716.7 297.4,1710.4 300.2,1705.9 C303.0,1701.4 306.0,1697.4 308.6,1693.4 C311.2,1689.4 313.3,1686.8 315.9,1681.9 C318.5,1677.0 321.5,1671.5 324.2,1664.0 C326.9,1656.5 329.1,1647.2 331.8,1637.0 C334.5,1626.8 337.4,1615.8 340.3,1603.0 C343.2,1590.2 346.4,1573.2 349.1,1560.0 C351.9,1546.8 354.2,1534.1 356.8,1523.8 C359.4,1513.5 361.9,1505.7 364.4,1498.3 C366.9,1490.9 369.4,1483.9 372.0,1479.2 C374.6,1474.5 377.3,1472.2 379.7,1470.3 C382.1,1468.4 384.2,1467.6 386.1,1467.8 C388.0,1468.0 388.8,1468.6 391.1,1471.6 C393.4,1474.6 397.1,1481.1 400.1,1485.6 C403.1,1490.0 405.8,1494.0 409.0,1498.3 C412.2,1502.5 415.4,1507.3 419.2,1511.1 C423.0,1514.9 428.0,1518.8 431.9,1521.3 C435.8,1523.8 439.6,1523.6 442.3,1526.0 C445.0,1528.4 444.6,1533.5 448.3,1535.8 C452.0,1538.1 460.1,1538.2 464.7,1539.6 C469.3,1541.0 471.1,1543.0 475.8,1544.0 C480.5,1545.0 488.0,1546.5 493.0,1545.5 C498.0,1544.5 501.1,1539.1 505.6,1538.0 C510.1,1536.9 515.9,1538.9 520.0,1538.8 C524.1,1538.7 525.9,1538.4 530.0,1537.5 C534.1,1536.6 540.7,1532.5 544.8,1533.2 C548.9,1533.9 552.2,1540.6 554.7,1541.4 C557.2,1542.2 557.4,1537.7 559.6,1538.0 C561.8,1538.3 565.1,1542.3 567.8,1543.1 C570.5,1543.9 573.0,1544.0 576.0,1543.0 C579.0,1542.0 583.3,1537.1 585.8,1537.3 C588.2,1537.5 588.0,1541.8 590.7,1544.0 C593.4,1546.2 599.2,1550.3 602.2,1550.4 C605.2,1550.5 605.7,1545.8 608.7,1544.7 C611.7,1543.6 616.7,1544.2 620.0,1543.9 C623.3,1543.6 625.1,1542.5 628.4,1543.0 C631.7,1543.5 636.2,1547.4 639.8,1547.2 C643.4,1547.0 647.1,1544.0 650.0,1542.0 C652.9,1540.0 655.8,1536.1 657.0,1534.9" fill="none" stroke="#f39220" stroke-width="4.5" stroke-linejoin="round" clip-path="url(#ce)"/>
<path d="M196.0,1748.6 C199.5,1747.9 209.9,1746.1 216.8,1744.4 C223.8,1742.7 230.8,1740.8 237.7,1738.2 C244.6,1735.6 251.6,1732.3 258.5,1728.8 C265.4,1725.3 273.3,1721.1 279.4,1717.3 C285.5,1713.5 290.6,1709.6 295.0,1705.9 C299.4,1702.2 302.0,1699.4 305.5,1695.4 C309.0,1691.4 312.4,1687.3 315.9,1681.9 C319.4,1676.5 323.2,1670.6 326.3,1663.1 C329.4,1655.6 331.2,1647.0 334.4,1637.0 C337.6,1627.0 342.5,1612.3 345.4,1603.0 C348.2,1593.7 349.4,1588.2 351.5,1581.0 C353.6,1573.8 355.9,1569.5 358.0,1560.0 C360.1,1550.5 362.3,1536.2 364.4,1523.8 C366.5,1511.4 368.6,1498.3 370.8,1485.6 C373.0,1472.9 375.6,1460.1 377.8,1447.4 C380.0,1434.7 381.9,1421.9 384.1,1409.2 C386.3,1396.5 389.1,1380.6 391.1,1371.0 C393.1,1361.4 394.4,1356.9 396.2,1351.8 C398.0,1346.7 400.1,1342.9 402.0,1340.4 C403.9,1337.9 405.5,1336.2 407.7,1336.6 C409.9,1337.0 413.1,1339.3 415.4,1342.9 C417.7,1346.5 419.2,1349.3 421.7,1358.2 C424.2,1367.1 427.8,1383.7 430.6,1396.4 C433.4,1409.1 435.5,1420.7 438.3,1434.6 C441.1,1448.5 444.7,1468.7 447.2,1480.0 C449.7,1491.3 451.3,1494.8 453.5,1502.3 C455.7,1509.8 458.3,1518.5 460.2,1524.7 C462.1,1530.9 462.8,1534.6 464.7,1539.6 C466.6,1544.6 469.0,1550.2 471.4,1554.5 C473.8,1558.8 475.8,1561.9 478.8,1565.6 C481.8,1569.3 485.4,1573.9 489.2,1576.8 C493.0,1579.7 496.8,1581.3 501.9,1582.8 C507.0,1584.2 511.2,1585.8 520.0,1585.5 C528.8,1585.2 544.8,1582.3 554.7,1580.7 C564.6,1579.1 571.0,1577.2 579.2,1575.8 C587.4,1574.4 597.0,1573.9 603.8,1572.5 C610.6,1571.1 614.7,1569.5 620.2,1567.6 C625.7,1565.7 630.5,1563.5 636.6,1561.1 C642.7,1558.7 653.6,1554.7 657.0,1553.4" fill="none" stroke="#7a7a12" stroke-width="4" stroke-linejoin="round" clip-path="url(#ce)"/>
<path d="M857.0,1773.8 C861.2,1773.5 874.0,1772.8 882.5,1772.0 C891.0,1771.2 901.6,1769.9 907.9,1768.7 C914.1,1767.5 916.0,1766.4 920.0,1764.9 C924.0,1763.5 928.1,1762.2 932.2,1760.0 C936.3,1757.8 940.3,1755.0 944.4,1751.5 C948.5,1748.0 953.1,1744.4 956.6,1739.3 C960.1,1734.2 962.7,1728.0 965.2,1720.9 C967.8,1713.8 969.9,1704.6 971.9,1696.5 C973.9,1688.4 975.7,1680.2 977.4,1672.1 C979.1,1664.0 980.8,1655.8 982.3,1647.7 C983.8,1639.6 985.1,1631.5 986.5,1623.3 C987.9,1615.1 989.4,1606.9 990.8,1598.8 C992.2,1590.7 993.3,1585.9 995.1,1574.4 C996.9,1562.9 1000.0,1542.6 1001.8,1529.9 C1003.5,1517.2 1004.4,1508.6 1005.6,1498.0 C1006.9,1487.4 1008.1,1475.0 1009.3,1466.2 C1010.4,1457.4 1011.5,1452.0 1012.5,1444.9 C1013.5,1437.8 1014.6,1429.9 1015.6,1423.7 C1016.6,1417.5 1017.4,1413.1 1018.8,1407.8 C1020.2,1402.5 1022.3,1397.1 1024.1,1391.8 C1025.9,1386.5 1026.9,1380.4 1029.4,1376.0 C1031.9,1371.6 1035.6,1366.4 1039.0,1365.3 C1042.4,1364.2 1045.3,1368.2 1049.6,1369.6 C1053.9,1371.0 1058.5,1372.3 1064.7,1373.7 C1070.9,1375.1 1079.6,1376.3 1087.0,1378.2 C1094.4,1380.1 1102.6,1382.3 1109.3,1384.9 C1116.0,1387.5 1121.2,1392.0 1127.2,1393.8 C1133.2,1395.6 1138.8,1396.9 1145.1,1396.0 C1151.4,1395.1 1158.1,1391.2 1165.2,1388.2 C1172.3,1385.2 1180.0,1381.7 1187.5,1378.2 C1195.0,1374.7 1203.2,1370.7 1209.9,1367.0 C1216.6,1363.3 1222.1,1357.0 1227.7,1355.8 C1233.3,1354.6 1237.8,1357.8 1243.4,1360.0 C1249.0,1362.2 1254.9,1367.3 1261.2,1369.2 C1267.5,1371.1 1275.0,1370.7 1281.3,1371.5 C1287.6,1372.3 1292.7,1373.3 1299.0,1374.0 C1305.3,1374.7 1315.7,1375.6 1319.0,1375.9" fill="none" stroke="#f4b4f2" stroke-width="5" stroke-linejoin="round" clip-path="url(#cf)"/>
<path d="M857.0,1773.8 C861.2,1773.5 874.0,1772.8 882.5,1772.0 C891.0,1771.2 901.6,1769.9 907.9,1768.7 C914.1,1767.5 916.0,1766.4 920.0,1764.9 C924.0,1763.5 928.1,1762.2 932.2,1760.0 C936.3,1757.8 940.3,1755.0 944.4,1751.5 C948.5,1748.0 953.1,1744.4 956.6,1739.3 C960.1,1734.2 962.7,1728.0 965.2,1720.9 C967.8,1713.8 969.9,1704.6 971.9,1696.5 C973.9,1688.4 975.7,1680.2 977.4,1672.1 C979.1,1664.0 980.8,1655.8 982.3,1647.7 C983.8,1639.6 985.1,1631.5 986.5,1623.3 C987.9,1615.1 989.4,1606.9 990.8,1598.8 C992.2,1590.7 993.3,1585.9 995.1,1574.4 C996.9,1562.9 1000.0,1542.6 1001.8,1529.9 C1003.5,1517.2 1004.4,1508.6 1005.6,1498.0 C1006.9,1487.4 1008.1,1475.0 1009.3,1466.2 C1010.4,1457.4 1011.5,1452.0 1012.5,1444.9 C1013.5,1437.8 1014.6,1429.9 1015.6,1423.7 C1016.6,1417.5 1017.4,1413.1 1018.8,1407.8 C1020.2,1402.5 1022.3,1395.8 1024.1,1391.8 C1025.9,1387.8 1027.8,1384.9 1029.4,1384.0 C1031.1,1383.1 1032.2,1385.5 1034.0,1386.5 C1035.8,1387.5 1037.8,1388.1 1040.0,1390.0 C1042.2,1391.9 1044.7,1394.7 1047.5,1398.0 C1050.3,1401.3 1054.1,1407.0 1057.0,1410.0 C1059.9,1413.0 1061.2,1416.9 1064.7,1416.1 C1068.2,1415.3 1073.2,1413.9 1078.0,1405.0 C1082.8,1396.1 1090.0,1372.3 1093.7,1362.5 C1097.4,1352.7 1097.4,1350.3 1100.0,1346.0 C1102.6,1341.7 1106.0,1336.1 1109.3,1336.9 C1112.6,1337.7 1116.3,1341.2 1120.0,1351.0 C1123.7,1360.8 1127.3,1385.3 1131.7,1396.0 C1136.1,1406.7 1140.6,1414.2 1146.2,1415.0 C1151.8,1415.8 1158.3,1405.9 1165.2,1400.5 C1172.1,1395.1 1180.0,1389.3 1187.5,1382.6 C1195.0,1375.9 1202.8,1366.6 1209.9,1360.3 C1217.0,1354.0 1224.4,1345.8 1230.0,1344.7 C1235.6,1343.6 1238.9,1348.4 1243.4,1353.6 C1247.9,1358.8 1252.3,1370.1 1256.8,1375.9 C1261.3,1381.7 1265.7,1385.8 1270.2,1388.2 C1274.7,1390.6 1278.4,1390.7 1283.6,1390.5 C1288.8,1390.3 1295.5,1388.8 1301.4,1387.1 C1307.3,1385.3 1316.1,1381.2 1319.0,1380.0" fill="none" stroke="#18e818" stroke-width="4.5" stroke-linejoin="round" clip-path="url(#cf)"/>
<path d="M857.0,1773.8 C861.2,1773.5 874.0,1772.8 882.5,1772.0 C891.0,1771.2 901.6,1769.9 907.9,1768.7 C914.1,1767.5 916.0,1766.4 920.0,1764.9 C924.0,1763.5 928.1,1762.2 932.2,1760.0 C936.3,1757.8 940.3,1755.0 944.4,1751.5 C948.5,1748.0 953.1,1744.4 956.6,1739.3 C960.1,1734.2 962.7,1728.0 965.2,1720.9 C967.8,1713.8 969.9,1704.6 971.9,1696.5 C973.9,1688.4 975.7,1680.2 977.4,1672.1 C979.1,1664.0 980.8,1655.8 982.3,1647.7 C983.8,1639.6 985.1,1631.5 986.5,1623.3 C987.9,1615.1 989.4,1606.9 990.8,1598.8 C992.2,1590.7 993.3,1585.9 995.1,1574.4 C996.9,1562.9 1000.0,1542.6 1001.8,1529.9 C1003.5,1517.2 1004.4,1508.6 1005.6,1498.0 C1006.9,1487.4 1008.1,1475.0 1009.3,1466.2 C1010.4,1457.4 1011.5,1452.0 1012.5,1444.9 C1013.5,1437.8 1014.6,1429.9 1015.6,1423.7 C1016.6,1417.5 1017.4,1413.1 1018.8,1407.8 C1020.2,1402.5 1022.3,1396.2 1024.1,1391.8 C1025.9,1387.4 1027.6,1383.5 1029.4,1381.2 C1031.2,1378.9 1033.2,1378.2 1034.8,1378.0 C1036.4,1377.8 1036.9,1377.9 1039.0,1380.2 C1041.1,1382.5 1044.5,1387.2 1047.5,1391.8 C1050.5,1396.4 1054.2,1404.3 1057.0,1407.8 C1059.8,1411.3 1061.8,1413.1 1064.6,1413.0 C1067.3,1412.9 1070.3,1411.0 1073.5,1407.0 C1076.7,1403.0 1080.3,1396.9 1083.7,1389.1 C1087.1,1381.3 1091.0,1366.8 1093.7,1360.3 C1096.4,1353.8 1097.8,1352.4 1100.0,1350.0 C1102.2,1347.6 1104.0,1344.1 1107.1,1345.8 C1110.1,1347.5 1114.6,1353.4 1118.3,1360.3 C1122.0,1367.2 1125.7,1380.4 1129.4,1387.1 C1133.1,1393.8 1137.2,1397.9 1140.6,1400.5 C1144.0,1403.1 1145.5,1403.8 1149.6,1402.7 C1153.7,1401.6 1158.9,1397.0 1165.2,1393.8 C1171.5,1390.6 1180.0,1388.3 1187.5,1383.8 C1195.0,1379.3 1203.6,1372.0 1209.9,1367.0 C1216.2,1362.0 1219.9,1354.7 1225.5,1353.6 C1231.1,1352.5 1237.5,1356.9 1243.4,1360.3 C1249.4,1363.7 1254.9,1370.0 1261.2,1373.7 C1267.5,1377.4 1275.0,1381.8 1281.3,1382.6 C1287.6,1383.3 1292.9,1379.1 1299.2,1378.2 C1305.5,1377.3 1315.7,1377.2 1319.0,1377.0" fill="none" stroke="#ea12ea" stroke-width="4.5" stroke-linejoin="round" clip-path="url(#cf)"/>
<path d="M857.0,1770.0 C861.2,1769.7 874.0,1769.0 882.5,1768.2 C891.0,1767.4 901.6,1765.9 907.9,1764.9 C914.1,1763.9 916.4,1763.2 920.0,1762.4 C923.6,1761.6 925.7,1761.8 929.8,1760.0 C933.9,1758.2 939.1,1755.0 944.4,1751.5 C949.7,1748.0 956.6,1744.4 961.5,1739.3 C966.4,1734.2 970.2,1728.0 973.7,1720.9 C977.2,1713.8 979.9,1704.6 982.3,1696.5 C984.6,1688.4 986.2,1680.2 987.8,1672.1 C989.4,1664.0 990.6,1655.8 992.0,1647.7 C993.4,1639.6 994.9,1631.5 996.3,1623.3 C997.7,1615.1 999.2,1607.7 1000.6,1598.8 C1002.0,1589.9 1003.0,1581.3 1004.4,1570.0 C1005.8,1558.7 1007.4,1543.0 1008.7,1531.0 C1010.1,1519.0 1011.2,1508.8 1012.5,1498.0 C1013.8,1487.2 1015.4,1476.8 1016.7,1466.2 C1018.0,1455.6 1019.2,1444.9 1020.4,1434.3 C1021.6,1423.7 1023.0,1411.3 1024.1,1402.5 C1025.2,1393.7 1025.9,1388.3 1026.8,1381.2 C1027.7,1374.1 1028.3,1367.4 1029.4,1360.0 C1030.5,1352.6 1032.0,1342.0 1033.2,1337.0 C1034.4,1332.0 1035.5,1331.4 1036.5,1330.0 C1037.5,1328.6 1036.9,1327.1 1039.0,1328.6 C1041.1,1330.1 1045.5,1336.8 1049.0,1339.1 C1052.5,1341.4 1056.9,1340.7 1060.2,1342.4 C1063.5,1344.1 1065.4,1345.0 1069.1,1349.1 C1072.8,1353.2 1078.4,1360.7 1082.5,1367.0 C1086.6,1373.3 1090.0,1381.1 1093.7,1387.1 C1097.4,1393.0 1100.8,1398.6 1104.9,1402.7 C1109.0,1406.8 1113.8,1410.0 1118.3,1411.7 C1122.8,1413.4 1127.2,1413.2 1131.7,1412.8 C1136.2,1412.4 1139.5,1411.8 1145.1,1409.4 C1150.7,1407.0 1158.1,1403.9 1165.2,1398.3 C1172.3,1392.7 1180.0,1382.6 1187.5,1375.9 C1195.0,1369.2 1203.6,1361.8 1209.9,1358.1 C1216.2,1354.4 1219.9,1352.9 1225.5,1353.6 C1231.1,1354.3 1238.2,1359.9 1243.4,1362.5 C1248.6,1365.1 1252.3,1368.5 1256.8,1369.2 C1261.3,1370.0 1265.0,1367.7 1270.2,1367.0 C1275.4,1366.3 1282.4,1364.6 1288.0,1364.8 C1293.6,1365.0 1298.5,1366.4 1303.7,1368.1 C1308.9,1369.8 1316.5,1373.8 1319.0,1375.0" fill="none" stroke="#7c7c7c" stroke-width="4.3" stroke-linejoin="round" clip-path="url(#cf)"/>
</svg></body></html>
